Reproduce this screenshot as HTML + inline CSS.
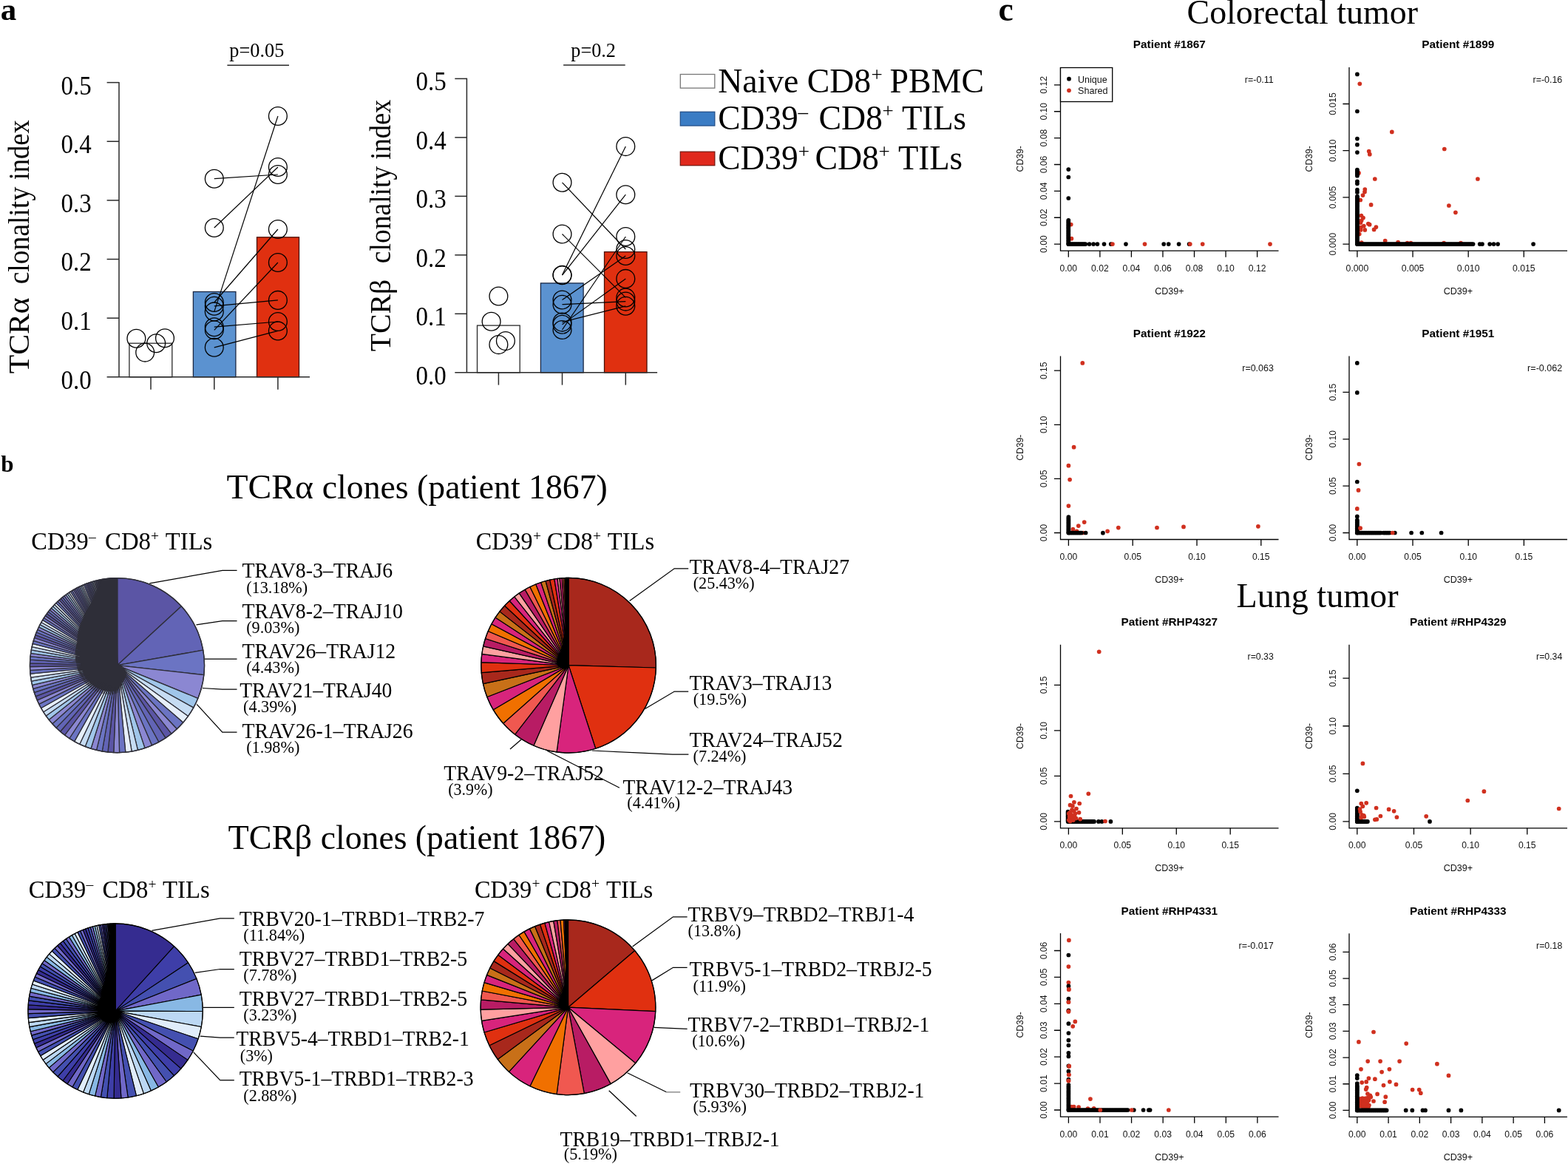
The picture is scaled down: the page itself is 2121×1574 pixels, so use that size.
<!DOCTYPE html>
<html lang="en">
<head>
<meta charset="utf-8">
<title>TCR clonality in CD39+ and CD39- CD8+ TILs</title>
<style>
html,body{margin:0;padding:0;background:#fff;}
body{width:2121px;height:1574px;overflow:hidden;}
svg{display:block;}
.se{font-family:"Liberation Serif","DejaVu Serif",serif;fill:#000;}
.sb{font-family:"Liberation Serif","DejaVu Serif",serif;font-weight:bold;fill:#000;}
.sa{font-family:"Liberation Sans","DejaVu Sans",sans-serif;fill:#111;}
.sab{font-family:"Liberation Sans","DejaVu Sans",sans-serif;font-weight:bold;fill:#000;}
</style>
</head>
<body>
<svg width="2121" height="1574" viewBox="0 0 2121 1574">
<rect x="0" y="0" width="2121" height="1574" fill="#ffffff"/>
<g id="panel-a">
<text class="sb" x="0.8" y="26.8" font-size="43">a</text>
<rect x="174.9" y="464.2" width="57.9" height="45.6" fill="#fff" stroke="#2a2a2a" stroke-width="1.3"/>
<rect x="261.4" y="394.5" width="57.5" height="115.3" fill="#5b92d0" stroke="#1a2744" stroke-width="1.3"/>
<rect x="347.5" y="320.8" width="57" height="189" fill="#e03010" stroke="#4a1006" stroke-width="1.3"/>
<line x1="161" y1="110.9" x2="161" y2="509.8" stroke="#2a2a2a" stroke-width="1.5"/>
<line x1="144.6" y1="509.8" x2="419" y2="509.8" stroke="#2a2a2a" stroke-width="1.5"/>
<text class="se" x="82.5" y="525.7" font-size="36" textLength="41.2" lengthAdjust="spacingAndGlyphs">0.0</text>
<line x1="144.6" y1="430.16" x2="161" y2="430.16" stroke="#2a2a2a" stroke-width="1.5"/>
<text class="se" x="82.5" y="446.06" font-size="36" textLength="41.2" lengthAdjust="spacingAndGlyphs">0.1</text>
<line x1="144.6" y1="350.52" x2="161" y2="350.52" stroke="#2a2a2a" stroke-width="1.5"/>
<text class="se" x="82.5" y="366.42" font-size="36" textLength="41.2" lengthAdjust="spacingAndGlyphs">0.2</text>
<line x1="144.6" y1="270.88" x2="161" y2="270.88" stroke="#2a2a2a" stroke-width="1.5"/>
<text class="se" x="82.5" y="286.78" font-size="36" textLength="41.2" lengthAdjust="spacingAndGlyphs">0.3</text>
<line x1="144.6" y1="191.24" x2="161" y2="191.24" stroke="#2a2a2a" stroke-width="1.5"/>
<text class="se" x="82.5" y="207.14" font-size="36" textLength="41.2" lengthAdjust="spacingAndGlyphs">0.4</text>
<line x1="144.6" y1="111.6" x2="161" y2="111.6" stroke="#2a2a2a" stroke-width="1.5"/>
<text class="se" x="82.5" y="127.5" font-size="36" textLength="41.2" lengthAdjust="spacingAndGlyphs">0.5</text>
<line x1="204" y1="509.8" x2="204" y2="526.8" stroke="#2a2a2a" stroke-width="1.5"/>
<line x1="289.8" y1="509.8" x2="289.8" y2="526.8" stroke="#2a2a2a" stroke-width="1.5"/>
<line x1="375.9" y1="509.8" x2="375.9" y2="526.8" stroke="#2a2a2a" stroke-width="1.5"/>
<text class="se" x="38.9" y="505.3" font-size="41" transform="rotate(-90 38.9 505.3)" textLength="103" lengthAdjust="spacingAndGlyphs">TCRα</text>
<text class="se" x="38.9" y="384.3" font-size="41" transform="rotate(-90 38.9 384.3)" textLength="131.5" lengthAdjust="spacingAndGlyphs">clonality</text>
<text class="se" x="38.9" y="243.3" font-size="41" transform="rotate(-90 38.9 243.3)" textLength="81" lengthAdjust="spacingAndGlyphs">index</text>
<circle cx="184.4" cy="457.7" r="12.4" fill="none" stroke="#000" stroke-width="1.3"/>
<circle cx="196.2" cy="476.6" r="12.4" fill="none" stroke="#000" stroke-width="1.3"/>
<circle cx="211.2" cy="464.2" r="12.4" fill="none" stroke="#000" stroke-width="1.3"/>
<circle cx="223" cy="457.3" r="12.4" fill="none" stroke="#000" stroke-width="1.3"/>
<circle cx="289.8" cy="241.7" r="12.4" fill="none" stroke="#000" stroke-width="1.3"/>
<circle cx="375.9" cy="236" r="12.4" fill="none" stroke="#000" stroke-width="1.3"/>
<circle cx="289.8" cy="308" r="12.4" fill="none" stroke="#000" stroke-width="1.3"/>
<circle cx="375.9" cy="226" r="12.4" fill="none" stroke="#000" stroke-width="1.3"/>
<circle cx="289.8" cy="421.4" r="12.4" fill="none" stroke="#000" stroke-width="1.3"/>
<circle cx="375.9" cy="157" r="12.4" fill="none" stroke="#000" stroke-width="1.3"/>
<circle cx="289.8" cy="409" r="12.4" fill="none" stroke="#000" stroke-width="1.3"/>
<circle cx="375.9" cy="310" r="12.4" fill="none" stroke="#000" stroke-width="1.3"/>
<circle cx="289.8" cy="413.8" r="12.4" fill="none" stroke="#000" stroke-width="1.3"/>
<circle cx="375.9" cy="405.9" r="12.4" fill="none" stroke="#000" stroke-width="1.3"/>
<circle cx="289.8" cy="446.3" r="12.4" fill="none" stroke="#000" stroke-width="1.3"/>
<circle cx="375.9" cy="355" r="12.4" fill="none" stroke="#000" stroke-width="1.3"/>
<circle cx="289.8" cy="442.2" r="12.4" fill="none" stroke="#000" stroke-width="1.3"/>
<circle cx="375.9" cy="435" r="12.4" fill="none" stroke="#000" stroke-width="1.3"/>
<circle cx="289.8" cy="469.8" r="12.4" fill="none" stroke="#000" stroke-width="1.3"/>
<circle cx="375.9" cy="447.4" r="12.4" fill="none" stroke="#000" stroke-width="1.3"/>
<line x1="289.8" y1="241.7" x2="375.9" y2="236" stroke="#000" stroke-width="1.2"/>
<line x1="289.8" y1="308" x2="375.9" y2="226" stroke="#000" stroke-width="1.2"/>
<line x1="289.8" y1="421.4" x2="375.9" y2="157" stroke="#000" stroke-width="1.2"/>
<line x1="289.8" y1="409" x2="375.9" y2="310" stroke="#000" stroke-width="1.2"/>
<line x1="289.8" y1="413.8" x2="375.9" y2="405.9" stroke="#000" stroke-width="1.2"/>
<line x1="289.8" y1="446.3" x2="375.9" y2="355" stroke="#000" stroke-width="1.2"/>
<line x1="289.8" y1="442.2" x2="375.9" y2="435" stroke="#000" stroke-width="1.2"/>
<line x1="289.8" y1="469.8" x2="375.9" y2="447.4" stroke="#000" stroke-width="1.2"/>
<text class="se" x="310.3" y="77.2" font-size="27.2" textLength="74" lengthAdjust="spacingAndGlyphs">p=0.05</text>
<line x1="307.4" y1="88.2" x2="391" y2="88.2" stroke="#2a2a2a" stroke-width="1.5"/>
<rect x="645.5" y="440.1" width="57.7" height="63.7" fill="#fff" stroke="#2a2a2a" stroke-width="1.3"/>
<rect x="731.4" y="382.9" width="57.7" height="120.9" fill="#5b92d0" stroke="#1a2744" stroke-width="1.3"/>
<rect x="817.5" y="340.6" width="57.5" height="163.2" fill="#e03010" stroke="#4a1006" stroke-width="1.3"/>
<line x1="631.4" y1="105.7" x2="631.4" y2="503.8" stroke="#2a2a2a" stroke-width="1.5"/>
<line x1="615.3" y1="503.8" x2="889.1" y2="503.8" stroke="#2a2a2a" stroke-width="1.5"/>
<text class="se" x="562.6" y="519.7" font-size="36" textLength="41.2" lengthAdjust="spacingAndGlyphs">0.0</text>
<line x1="615.3" y1="424.32" x2="631.4" y2="424.32" stroke="#2a2a2a" stroke-width="1.5"/>
<text class="se" x="562.6" y="440.22" font-size="36" textLength="41.2" lengthAdjust="spacingAndGlyphs">0.1</text>
<line x1="615.3" y1="344.84" x2="631.4" y2="344.84" stroke="#2a2a2a" stroke-width="1.5"/>
<text class="se" x="562.6" y="360.74" font-size="36" textLength="41.2" lengthAdjust="spacingAndGlyphs">0.2</text>
<line x1="615.3" y1="265.36" x2="631.4" y2="265.36" stroke="#2a2a2a" stroke-width="1.5"/>
<text class="se" x="562.6" y="281.26" font-size="36" textLength="41.2" lengthAdjust="spacingAndGlyphs">0.3</text>
<line x1="615.3" y1="185.88" x2="631.4" y2="185.88" stroke="#2a2a2a" stroke-width="1.5"/>
<text class="se" x="562.6" y="201.78" font-size="36" textLength="41.2" lengthAdjust="spacingAndGlyphs">0.4</text>
<line x1="615.3" y1="106.4" x2="631.4" y2="106.4" stroke="#2a2a2a" stroke-width="1.5"/>
<text class="se" x="562.6" y="122.3" font-size="36" textLength="41.2" lengthAdjust="spacingAndGlyphs">0.5</text>
<line x1="674.4" y1="503.8" x2="674.4" y2="520.6" stroke="#2a2a2a" stroke-width="1.5"/>
<line x1="760.5" y1="503.8" x2="760.5" y2="520.6" stroke="#2a2a2a" stroke-width="1.5"/>
<line x1="846.3" y1="503.8" x2="846.3" y2="520.6" stroke="#2a2a2a" stroke-width="1.5"/>
<text class="se" x="528.1" y="475.3" font-size="41" transform="rotate(-90 528.1 475.3)" textLength="97.5" lengthAdjust="spacingAndGlyphs">TCRβ</text>
<text class="se" x="528.1" y="356.2" font-size="41" transform="rotate(-90 528.1 356.2)" textLength="131.5" lengthAdjust="spacingAndGlyphs">clonality</text>
<text class="se" x="528.1" y="215.7" font-size="41" transform="rotate(-90 528.1 215.7)" textLength="81" lengthAdjust="spacingAndGlyphs">index</text>
<circle cx="674.4" cy="400.5" r="12.4" fill="none" stroke="#000" stroke-width="1.3"/>
<circle cx="664.6" cy="434.8" r="12.4" fill="none" stroke="#000" stroke-width="1.3"/>
<circle cx="683.9" cy="461.1" r="12.4" fill="none" stroke="#000" stroke-width="1.3"/>
<circle cx="674.4" cy="466.1" r="12.4" fill="none" stroke="#000" stroke-width="1.3"/>
<circle cx="760.5" cy="316.5" r="12.4" fill="none" stroke="#000" stroke-width="1.3"/>
<circle cx="846.3" cy="402.4" r="12.4" fill="none" stroke="#000" stroke-width="1.3"/>
<circle cx="760.5" cy="371.7" r="12.4" fill="none" stroke="#000" stroke-width="1.3"/>
<circle cx="846.3" cy="198.1" r="12.4" fill="none" stroke="#000" stroke-width="1.3"/>
<circle cx="760.5" cy="372.2" r="12.4" fill="none" stroke="#000" stroke-width="1.3"/>
<circle cx="846.3" cy="263.2" r="12.4" fill="none" stroke="#000" stroke-width="1.3"/>
<circle cx="760.5" cy="246.8" r="12.4" fill="none" stroke="#000" stroke-width="1.3"/>
<circle cx="846.3" cy="337" r="12.4" fill="none" stroke="#000" stroke-width="1.3"/>
<circle cx="760.5" cy="405.5" r="12.4" fill="none" stroke="#000" stroke-width="1.3"/>
<circle cx="846.3" cy="346" r="12.4" fill="none" stroke="#000" stroke-width="1.3"/>
<circle cx="760.5" cy="411.7" r="12.4" fill="none" stroke="#000" stroke-width="1.3"/>
<circle cx="846.3" cy="407.6" r="12.4" fill="none" stroke="#000" stroke-width="1.3"/>
<circle cx="760.5" cy="438.7" r="12.4" fill="none" stroke="#000" stroke-width="1.3"/>
<circle cx="846.3" cy="376.9" r="12.4" fill="none" stroke="#000" stroke-width="1.3"/>
<circle cx="760.5" cy="435.6" r="12.4" fill="none" stroke="#000" stroke-width="1.3"/>
<circle cx="846.3" cy="413.8" r="12.4" fill="none" stroke="#000" stroke-width="1.3"/>
<circle cx="760.5" cy="446" r="12.4" fill="none" stroke="#000" stroke-width="1.3"/>
<circle cx="846.3" cy="320" r="12.4" fill="none" stroke="#000" stroke-width="1.3"/>
<line x1="760.5" y1="316.5" x2="846.3" y2="402.4" stroke="#000" stroke-width="1.2"/>
<line x1="760.5" y1="371.7" x2="846.3" y2="198.1" stroke="#000" stroke-width="1.2"/>
<line x1="760.5" y1="372.2" x2="846.3" y2="263.2" stroke="#000" stroke-width="1.2"/>
<line x1="760.5" y1="246.8" x2="846.3" y2="337" stroke="#000" stroke-width="1.2"/>
<line x1="760.5" y1="405.5" x2="846.3" y2="346" stroke="#000" stroke-width="1.2"/>
<line x1="760.5" y1="411.7" x2="846.3" y2="407.6" stroke="#000" stroke-width="1.2"/>
<line x1="760.5" y1="438.7" x2="846.3" y2="376.9" stroke="#000" stroke-width="1.2"/>
<line x1="760.5" y1="435.6" x2="846.3" y2="413.8" stroke="#000" stroke-width="1.2"/>
<line x1="760.5" y1="446" x2="846.3" y2="320" stroke="#000" stroke-width="1.2"/>
<text class="se" x="772.3" y="76.9" font-size="27.2" textLength="60.6" lengthAdjust="spacingAndGlyphs">p=0.2</text>
<line x1="762.1" y1="87.9" x2="845.7" y2="87.9" stroke="#2a2a2a" stroke-width="1.5"/>
<rect x="920.3" y="100.5" width="46.5" height="18.6" fill="#fff" stroke="#777" stroke-width="1.3"/>
<rect x="920.3" y="151.3" width="46.5" height="18.7" fill="#3a7cc4" stroke="#24508a" stroke-width="1.3"/>
<rect x="920.3" y="205.2" width="46.5" height="18.5" fill="#e0281c" stroke="#7a1810" stroke-width="1.3"/>
<text class="se" x="971.2" y="125.3" font-size="47" textLength="207" lengthAdjust="spacingAndGlyphs">Naive CD8</text>
<text class="se" x="1178.5" y="109.8" font-size="27">+</text>
<text class="se" x="1203.5" y="125.3" font-size="47" textLength="127.5" lengthAdjust="spacingAndGlyphs">PBMC</text>
<text class="se" x="971.2" y="174.7" font-size="47" textLength="108.5" lengthAdjust="spacingAndGlyphs">CD39</text>
<text class="se" x="1079.5" y="159.7" font-size="27" fill="#555">–</text>
<text class="se" x="1107.5" y="174.7" font-size="47" textLength="86.5" lengthAdjust="spacingAndGlyphs">CD8</text>
<text class="se" x="1193.5" y="159.2" font-size="27">+</text>
<text class="se" x="1220" y="174.7" font-size="47" textLength="87" lengthAdjust="spacingAndGlyphs">TILs</text>
<text class="se" x="971.2" y="229.1" font-size="47" textLength="108.5" lengthAdjust="spacingAndGlyphs">CD39</text>
<text class="se" x="1079.7" y="213.6" font-size="27">+</text>
<text class="se" x="1102.5" y="229.1" font-size="47" textLength="86.5" lengthAdjust="spacingAndGlyphs">CD8</text>
<text class="se" x="1188.5" y="213.6" font-size="27">+</text>
<text class="se" x="1215" y="229.1" font-size="47" textLength="87" lengthAdjust="spacingAndGlyphs">TILs</text>
</g>
<g id="panel-b">
<text class="sb" x="1.2" y="638" font-size="31">b</text>
<text class="se" x="306.5" y="673.5" font-size="47.3" textLength="117.5" lengthAdjust="spacingAndGlyphs">TCRα</text>
<text class="se" x="435.8" y="673.5" font-size="47.3" textLength="386" lengthAdjust="spacingAndGlyphs">clones (patient 1867)</text>
<text class="se" x="308.6" y="1148" font-size="47.3" textLength="113.5" lengthAdjust="spacingAndGlyphs">TCRβ</text>
<text class="se" x="433.8" y="1148" font-size="47.3" textLength="385.5" lengthAdjust="spacingAndGlyphs">clones (patient 1867)</text>
<text class="se" x="42.3" y="743.1" font-size="33.5" textLength="77.4" lengthAdjust="spacingAndGlyphs">CD39</text>
<text class="se" x="120" y="731.6" font-size="19.5" fill="#444">–</text>
<text class="se" x="142" y="743.1" font-size="33.5" textLength="62" lengthAdjust="spacingAndGlyphs">CD8</text>
<text class="se" x="203.9" y="730.9" font-size="19.5">+</text>
<text class="se" x="223.8" y="743.1" font-size="33.5" textLength="63.5" lengthAdjust="spacingAndGlyphs">TILs</text>
<text class="se" x="643.8" y="743.4" font-size="33.5" textLength="76.8" lengthAdjust="spacingAndGlyphs">CD39</text>
<text class="se" x="720.9" y="731.2" font-size="19.5">+</text>
<text class="se" x="739.8" y="743.4" font-size="33.5" textLength="62" lengthAdjust="spacingAndGlyphs">CD8</text>
<text class="se" x="801.9" y="731.2" font-size="19.5">+</text>
<text class="se" x="821.8" y="743.4" font-size="33.5" textLength="63.4" lengthAdjust="spacingAndGlyphs">TILs</text>
<text class="se" x="38.8" y="1213.8" font-size="33.5" textLength="77.4" lengthAdjust="spacingAndGlyphs">CD39</text>
<text class="se" x="116.5" y="1202.3" font-size="19.5" fill="#444">–</text>
<text class="se" x="138.4" y="1213.8" font-size="33.5" textLength="62" lengthAdjust="spacingAndGlyphs">CD8</text>
<text class="se" x="200.4" y="1201.6" font-size="19.5">+</text>
<text class="se" x="220.1" y="1213.8" font-size="33.5" textLength="63.7" lengthAdjust="spacingAndGlyphs">TILs</text>
<text class="se" x="642" y="1213.5" font-size="33.5" textLength="77.2" lengthAdjust="spacingAndGlyphs">CD39</text>
<text class="se" x="719.5" y="1201.3" font-size="19.5">+</text>
<text class="se" x="737.8" y="1213.5" font-size="33.5" textLength="62" lengthAdjust="spacingAndGlyphs">CD8</text>
<text class="se" x="799.9" y="1201.3" font-size="19.5">+</text>
<text class="se" x="820" y="1213.5" font-size="33.5" textLength="63.3" lengthAdjust="spacingAndGlyphs">TILs</text>
<g stroke="#2e2e38" stroke-width="1.3" stroke-linejoin="round">
<path d="M158.5 899.7L158.5 781.65A118.05 118.05 0 0 1 245.4 819.79Z" fill="#5b55a5"/>
<path d="M158.5 899.7L245.4 819.79A118.05 118.05 0 0 1 274.76 879.2Z" fill="#6264b6"/>
<path d="M158.5 899.7L274.76 879.2A118.05 118.05 0 0 1 275.84 912.65Z" fill="#6b74c3"/>
<path d="M158.5 899.7L275.84 912.65A118.05 118.05 0 0 1 267.8 944.3Z" fill="#8b87d2"/>
<path d="M158.5 899.7L267.8 944.3A118.05 118.05 0 0 1 261.75 956.93Z" fill="#a0c6ea"/>
<path d="M158.5 899.7L261.75 956.93A118.05 118.05 0 0 1 254.49 968.42Z" fill="#c6dcf3"/>
<path d="M158.5 899.7L254.49 968.42A118.05 118.05 0 0 1 247.73 976.99Z" fill="#e6effa"/>
<path d="M158.5 899.7L247.73 976.99A118.05 118.05 0 0 1 239.31 985.75Z" fill="#6b74c3"/>
<path d="M158.5 899.7L239.31 985.75A118.05 118.05 0 0 1 231.83 992.22Z" fill="#8b87d2"/>
<path d="M158.5 899.7L231.83 992.22A118.05 118.05 0 0 1 224 997.91Z" fill="#5b55a5"/>
<path d="M158.5 899.7L224 997.91A118.05 118.05 0 0 1 214.83 1003.44Z" fill="#6264b6"/>
<path d="M158.5 899.7L214.83 1003.44A118.05 118.05 0 0 1 205.57 1007.96Z" fill="#6b74c3"/>
<path d="M158.5 899.7L205.57 1007.96A118.05 118.05 0 0 1 195.96 1011.65Z" fill="#8b87d2"/>
<path d="M158.5 899.7L195.96 1011.65A118.05 118.05 0 0 1 186.46 1014.39Z" fill="#a0c6ea"/>
<path d="M158.5 899.7L186.46 1014.39A118.05 118.05 0 0 1 178.19 1016.1Z" fill="#c6dcf3"/>
<path d="M158.5 899.7L178.19 1016.1A118.05 118.05 0 0 1 169.81 1017.21Z" fill="#e6effa"/>
<path d="M158.5 899.7L169.81 1017.21A118.05 118.05 0 0 1 161.59 1017.71Z" fill="#6b74c3"/>
<path d="M158.5 899.7L161.59 1017.71A118.05 118.05 0 0 1 153.76 1017.65Z" fill="#8b87d2"/>
<path d="M158.5 899.7L153.76 1017.65A118.05 118.05 0 0 1 145.95 1017.08Z" fill="#5b55a5"/>
<path d="M158.5 899.7L145.95 1017.08A118.05 118.05 0 0 1 138.19 1015.99Z" fill="#6264b6"/>
<path d="M158.5 899.7L138.19 1015.99A118.05 118.05 0 0 1 130.53 1014.39Z" fill="#6b74c3"/>
<path d="M158.5 899.7L130.53 1014.39A118.05 118.05 0 0 1 123 1012.29Z" fill="#8b87d2"/>
<path d="M158.5 899.7L123 1012.29A118.05 118.05 0 0 1 115.22 1009.53Z" fill="#a0c6ea"/>
<path d="M158.5 899.7L115.22 1009.53A118.05 118.05 0 0 1 107.76 1006.29Z" fill="#c6dcf3"/>
<path d="M158.5 899.7L107.76 1006.29A118.05 118.05 0 0 1 100.64 1002.6Z" fill="#e6effa"/>
<path d="M158.5 899.7L100.64 1002.6A118.05 118.05 0 0 1 93.89 998.5Z" fill="#6b74c3"/>
<path d="M158.5 899.7L93.89 998.5A118.05 118.05 0 0 1 87.52 994.03Z" fill="#8b87d2"/>
<path d="M158.5 899.7L87.52 994.03A118.05 118.05 0 0 1 81.55 989.22Z" fill="#5b55a5"/>
<path d="M158.5 899.7L81.55 989.22A118.05 118.05 0 0 1 75.99 984.12Z" fill="#6264b6"/>
<path d="M158.5 899.7L75.99 984.12A118.05 118.05 0 0 1 70.84 978.77Z" fill="#6b74c3"/>
<path d="M158.5 899.7L70.84 978.77A118.05 118.05 0 0 1 66.11 973.19Z" fill="#8b87d2"/>
<path d="M158.5 899.7L66.11 973.19A118.05 118.05 0 0 1 62.22 968.01Z" fill="#a0c6ea"/>
<path d="M158.5 899.7L62.22 968.01A118.05 118.05 0 0 1 58.71 962.77Z" fill="#c6dcf3"/>
<path d="M158.5 899.7L58.71 962.77A118.05 118.05 0 0 1 55.56 957.48Z" fill="#e6effa"/>
<path d="M158.5 899.7L55.56 957.48A118.05 118.05 0 0 1 52.76 952.18Z" fill="#6b74c3"/>
<path d="M158.5 899.7L52.76 952.18A118.05 118.05 0 0 1 50.29 946.89Z" fill="#8b87d2"/>
<path d="M158.5 899.7L50.29 946.89A118.05 118.05 0 0 1 48.15 941.63Z" fill="#5b55a5"/>
<path d="M158.5 899.7L48.15 941.63A118.05 118.05 0 0 1 46.31 936.43Z" fill="#6264b6"/>
<path d="M158.5 899.7L46.31 936.43A118.05 118.05 0 0 1 44.76 931.3Z" fill="#6b74c3"/>
<path d="M158.5 899.7L44.76 931.3A118.05 118.05 0 0 1 43.48 926.26Z" fill="#8b87d2"/>
<path d="M158.5 899.7L43.48 926.26A118.05 118.05 0 0 1 42.42 921.18Z" fill="#a0c6ea"/>
<path d="M158.5 899.7L42.42 921.18A118.05 118.05 0 0 1 41.6 916.16Z" fill="#c6dcf3"/>
<path d="M158.5 899.7L41.6 916.16A118.05 118.05 0 0 1 41.01 911.2Z" fill="#e6effa"/>
<path d="M158.5 899.7L41.01 911.2A118.05 118.05 0 0 1 40.64 906.31Z" fill="#6b74c3"/>
<path d="M158.5 899.7L40.64 906.31A118.05 118.05 0 0 1 40.46 901.51Z" fill="#8b87d2"/>
<path d="M158.5 899.7L40.46 901.51A118.05 118.05 0 0 1 40.49 896.8Z" fill="#5b55a5"/>
<path d="M158.5 899.7L40.49 896.8A118.05 118.05 0 0 1 40.69 892.18Z" fill="#6264b6"/>
<path d="M158.5 899.7L40.69 892.18A118.05 118.05 0 0 1 41.06 887.67Z" fill="#6b74c3"/>
<path d="M158.5 899.7L41.06 887.67A118.05 118.05 0 0 1 41.6 883.27Z" fill="#8b87d2"/>
<path d="M158.5 899.7L41.6 883.27A118.05 118.05 0 0 1 42.3 878.9Z" fill="#a0c6ea"/>
<path d="M158.5 899.7L42.3 878.9A118.05 118.05 0 0 1 43.14 874.63Z" fill="#c6dcf3"/>
<path d="M158.5 899.7L43.14 874.63A118.05 118.05 0 0 1 44.12 870.48Z" fill="#e6effa"/>
<path d="M158.5 899.7L44.12 870.48A118.05 118.05 0 0 1 45.24 866.43Z" fill="#6b74c3"/>
<path d="M158.5 899.7L45.24 866.43A118.05 118.05 0 0 1 46.47 862.5Z" fill="#8b87d2"/>
<path d="M158.5 899.7L46.47 862.5A118.05 118.05 0 0 1 47.81 858.68Z" fill="#5b55a5"/>
<path d="M158.5 899.7L47.81 858.68A118.05 118.05 0 0 1 49.25 854.98Z" fill="#6264b6"/>
<path d="M158.5 899.7L49.25 854.98A118.05 118.05 0 0 1 50.78 851.41Z" fill="#6b74c3"/>
<path d="M158.5 899.7L50.78 851.41A118.05 118.05 0 0 1 52.4 847.95Z" fill="#8b87d2"/>
<path d="M158.5 899.7L52.4 847.95A118.05 118.05 0 0 1 54.06 844.66Z" fill="#a0c6ea"/>
<path d="M158.5 899.7L54.06 844.66A118.05 118.05 0 0 1 55.8 841.49Z" fill="#c6dcf3"/>
<path d="M158.5 899.7L55.8 841.49A118.05 118.05 0 0 1 57.6 838.42Z" fill="#e6effa"/>
<path d="M158.5 899.7L57.6 838.42A118.05 118.05 0 0 1 59.46 835.46Z" fill="#6b74c3"/>
<path d="M158.5 899.7L59.46 835.46A118.05 118.05 0 0 1 61.37 832.6Z" fill="#8b87d2"/>
<path d="M158.5 899.7L61.37 832.6A118.05 118.05 0 0 1 63.33 829.86Z" fill="#5b55a5"/>
<path d="M158.5 899.7L63.33 829.86A118.05 118.05 0 0 1 65.32 827.22Z" fill="#6264b6"/>
<path d="M158.5 899.7L65.32 827.22A118.05 118.05 0 0 1 67.35 824.68Z" fill="#6b74c3"/>
<path d="M158.5 899.7L67.35 824.68A118.05 118.05 0 0 1 69.41 822.25Z" fill="#8b87d2"/>
<path d="M158.5 899.7L69.41 822.25A118.05 118.05 0 0 1 71.54 819.86Z" fill="#a0c6ea"/>
<path d="M158.5 899.7L71.54 819.86A118.05 118.05 0 0 1 73.7 817.57Z" fill="#c6dcf3"/>
<path d="M158.5 899.7L73.7 817.57A118.05 118.05 0 0 1 75.88 815.38Z" fill="#e6effa"/>
<path d="M158.5 899.7L75.88 815.38A118.05 118.05 0 0 1 78.08 813.28Z" fill="#6b74c3"/>
<path d="M158.5 899.7L78.08 813.28A118.05 118.05 0 0 1 80.28 811.28Z" fill="#8b87d2"/>
<path d="M158.5 899.7L80.28 811.28A118.05 118.05 0 0 1 82.49 809.38Z" fill="#5b55a5"/>
<path d="M158.5 899.7L82.49 809.38A118.05 118.05 0 0 1 84.7 807.56Z" fill="#6264b6"/>
<path d="M158.5 899.7L84.7 807.56A118.05 118.05 0 0 1 86.91 805.83Z" fill="#6b74c3"/>
<path d="M158.5 899.7L86.91 805.83A118.05 118.05 0 0 1 89.11 804.2Z" fill="#8b87d2"/>
<path d="M158.5 899.7L89.11 804.2A118.05 118.05 0 0 1 91.26 802.67Z" fill="#a0c6ea"/>
<path d="M158.5 899.7L91.26 802.67A118.05 118.05 0 0 1 93.39 801.23Z" fill="#c6dcf3"/>
<path d="M158.5 899.7L93.39 801.23A118.05 118.05 0 0 1 95.5 799.87Z" fill="#e6effa"/>
<path d="M158.5 899.7L95.5 799.87A118.05 118.05 0 0 1 97.6 798.57Z" fill="#6b74c3"/>
<path d="M158.5 899.7L97.6 798.57A118.05 118.05 0 0 1 99.67 797.35Z" fill="#8b87d2"/>
<path d="M158.5 899.7L99.67 797.35A118.05 118.05 0 0 1 101.71 796.21Z" fill="#5b55a5"/>
<path d="M158.5 899.7L101.71 796.21A118.05 118.05 0 0 1 103.73 795.12Z" fill="#6264b6"/>
<path d="M158.5 899.7L103.73 795.12A118.05 118.05 0 0 1 105.72 794.11Z" fill="#6b74c3"/>
<path d="M158.5 899.7L105.72 794.11A118.05 118.05 0 0 1 107.68 793.15Z" fill="#8b87d2"/>
<path d="M158.5 899.7L107.68 793.15A118.05 118.05 0 0 1 109.63 792.24Z" fill="#a0c6ea"/>
<path d="M158.5 899.7L109.63 792.24A118.05 118.05 0 0 1 111.54 791.39Z" fill="#c6dcf3"/>
<path d="M158.5 899.7L111.54 791.39A118.05 118.05 0 0 1 113.43 790.59Z" fill="#e6effa"/>
<path d="M158.5 899.7L113.43 790.59A118.05 118.05 0 0 1 115.28 789.85Z" fill="#6b74c3"/>
<path d="M158.5 899.7L115.28 789.85A118.05 118.05 0 0 1 117.1 789.15Z" fill="#8b87d2"/>
<path d="M158.5 899.7L117.1 789.15A118.05 118.05 0 0 1 118.88 788.5Z" fill="#5b55a5"/>
<path d="M158.5 899.7L118.88 788.5A118.05 118.05 0 0 1 120.62 787.89Z" fill="#6264b6"/>
<path d="M158.5 899.7L120.62 787.89A118.05 118.05 0 0 1 122.32 787.33Z" fill="#6b74c3"/>
<path d="M158.5 899.7L122.32 787.33A118.05 118.05 0 0 1 123.99 786.81Z" fill="#8b87d2"/>
<path d="M158.5 899.7L123.99 786.81A118.05 118.05 0 0 1 125.61 786.33Z" fill="#a0c6ea"/>
<path d="M158.5 899.7L125.61 786.33A118.05 118.05 0 0 1 127.19 785.88Z" fill="#c6dcf3"/>
<path d="M158.5 899.7L127.19 785.88A118.05 118.05 0 0 1 128.72 785.47Z" fill="#e6effa"/>
<path d="M158.5 899.7L128.72 785.47A118.05 118.05 0 0 1 130.21 785.09Z" fill="#6b74c3"/>
<path d="M158.5 899.7L130.21 785.09A118.05 118.05 0 0 1 131.66 784.74Z" fill="#8b87d2"/>
<path d="M158.5 899.7L131.66 784.74A118.05 118.05 0 0 1 133.06 784.42Z" fill="#5b55a5"/>
<path d="M158.5 899.7L133.06 784.42A118.05 118.05 0 0 1 134.42 784.13Z" fill="#6264b6"/>
<path d="M158.5 899.7L134.42 784.13A118.05 118.05 0 0 1 135.73 783.87Z" fill="#6b74c3"/>
<path d="M158.5 899.7L135.73 783.87A118.05 118.05 0 0 1 136.99 783.63Z" fill="#8b87d2"/>
<path d="M158.5 899.7L136.99 783.63A118.05 118.05 0 0 1 138.16 783.42Z" fill="#a0c6ea"/>
<path d="M158.5 899.7L138.16 783.42A118.05 118.05 0 0 1 139.3 783.22Z" fill="#c6dcf3"/>
<path d="M158.5 899.7L139.3 783.22A118.05 118.05 0 0 1 140.39 783.05Z" fill="#e6effa"/>
<path d="M158.5 899.7L140.39 783.05A118.05 118.05 0 0 1 141.45 782.89Z" fill="#6b74c3"/>
<path d="M158.5 899.7L141.45 782.89A118.05 118.05 0 0 1 142.47 782.74Z" fill="#8b87d2"/>
<path d="M158.5 899.7L142.47 782.74A118.05 118.05 0 0 1 143.45 782.61Z" fill="#5b55a5"/>
<path d="M158.5 899.7L143.45 782.61A118.05 118.05 0 0 1 144.39 782.5Z" fill="#6264b6"/>
<path d="M158.5 899.7L144.39 782.5A118.05 118.05 0 0 1 145.3 782.39Z" fill="#6b74c3"/>
<path d="M158.5 899.7L145.3 782.39A118.05 118.05 0 0 1 146.16 782.3Z" fill="#8b87d2"/>
<path d="M158.5 899.7L146.16 782.3A118.05 118.05 0 0 1 147.03 782.21Z" fill="#a0c6ea"/>
<path d="M158.5 899.7L147.03 782.21A118.05 118.05 0 0 1 147.86 782.13Z" fill="#c6dcf3"/>
<path d="M158.5 899.7L147.86 782.13A118.05 118.05 0 0 1 148.66 782.06Z" fill="#e6effa"/>
<path d="M158.5 899.7L148.66 782.06A118.05 118.05 0 0 1 149.42 782Z" fill="#6b74c3"/>
<path d="M158.5 899.7L149.42 782A118.05 118.05 0 0 1 150.15 781.95Z" fill="#8b87d2"/>
<path d="M158.5 899.7L150.15 781.95A118.05 118.05 0 0 1 150.85 781.9Z" fill="#5b55a5"/>
<path d="M158.5 899.7L150.85 781.9A118.05 118.05 0 0 1 151.51 781.86Z" fill="#6264b6"/>
<path d="M158.5 899.7L151.51 781.86A118.05 118.05 0 0 1 152.14 781.82Z" fill="#6b74c3"/>
<path d="M158.5 899.7L152.14 781.82A118.05 118.05 0 0 1 152.73 781.79Z" fill="#8b87d2"/>
<path d="M158.5 899.7L152.73 781.79A118.05 118.05 0 0 1 153.25 781.77Z" fill="#a0c6ea"/>
<path d="M158.5 899.7L153.25 781.77A118.05 118.05 0 0 1 153.74 781.75Z" fill="#c6dcf3"/>
<path d="M158.5 899.7L153.74 781.75A118.05 118.05 0 0 1 154.2 781.73Z" fill="#e6effa"/>
<path d="M158.5 899.7L154.2 781.73A118.05 118.05 0 0 1 154.64 781.71Z" fill="#6b74c3"/>
<path d="M158.5 899.7L154.64 781.71A118.05 118.05 0 0 1 155.05 781.7Z" fill="#8b87d2"/>
<path d="M158.5 899.7L155.05 781.7A118.05 118.05 0 0 1 155.44 781.69Z" fill="#5b55a5"/>
<path d="M158.5 899.7L155.44 781.69A118.05 118.05 0 0 1 155.8 781.68Z" fill="#6264b6"/>
<path d="M158.5 899.7L155.8 781.68A118.05 118.05 0 0 1 156.13 781.67Z" fill="#6b74c3"/>
<path d="M158.5 899.7L156.13 781.67A118.05 118.05 0 0 1 156.44 781.67Z" fill="#8b87d2"/>
<path d="M158.5 899.7L156.44 781.67A118.05 118.05 0 0 1 156.7 781.66Z" fill="#a0c6ea"/>
<path d="M158.5 899.7L156.7 781.66A118.05 118.05 0 0 1 156.96 781.66Z" fill="#c6dcf3"/>
<path d="M158.5 899.7L156.96 781.66A118.05 118.05 0 0 1 157.2 781.66Z" fill="#e6effa"/>
<path d="M158.5 899.7L157.2 781.66A118.05 118.05 0 0 1 157.44 781.65Z" fill="#6b74c3"/>
<path d="M158.5 899.7L157.44 781.65A118.05 118.05 0 0 1 157.67 781.65Z" fill="#8b87d2"/>
<path d="M158.5 899.7L157.67 781.65A118.05 118.05 0 0 1 157.89 781.65Z" fill="#5b55a5"/>
<path d="M158.5 899.7L157.89 781.65A118.05 118.05 0 0 1 158.1 781.65Z" fill="#6264b6"/>
<path d="M158.5 899.7L158.1 781.65A118.05 118.05 0 0 1 158.3 781.65Z" fill="#6b74c3"/>
<path d="M158.5 899.7L158.3 781.65A118.05 118.05 0 0 1 158.5 781.65Z" fill="#8b87d2"/>
</g>
<circle cx="158.5" cy="899.7" r="118.05" fill="none" stroke="#2e2e38" stroke-width="1.3"/>
<polygon points="158.5,899.7 158.5,899.68 158.5,899.67 158.5,899.65 158.5,899.63 158.5,899.62 158.51,899.6 158.51,899.58 158.51,899.57 158.51,899.55 158.51,899.53 158.52,899.52 158.52,899.5 158.52,899.48 158.53,899.47 158.53,899.45 158.54,899.44 158.54,899.42 158.55,899.4 158.55,899.39 158.56,899.37 158.56,899.36 158.57,899.34 158.58,899.32 158.58,899.31 158.59,899.29 158.6,899.28 158.61,899.26 158.61,899.25 158.62,899.23 158.63,899.22 158.64,899.2 158.65,899.19 158.66,899.17 158.67,899.16 158.68,899.14 158.69,899.13 158.7,899.12 158.71,899.1 158.72,899.09 158.73,899.07 158.74,899.06 158.75,899.05 158.76,899.03 158.77,899.02 158.79,899.01 158.8,898.99 158.81,898.98 158.83,898.97 158.84,898.96 158.85,898.94 158.87,898.93 158.88,898.92 158.89,898.91 158.91,898.9 158.92,898.89 158.94,898.88 158.95,898.87 158.97,898.85 158.98,898.84 159,898.83 159.02,898.82 159.03,898.81 159.05,898.8 159.07,898.8 159.08,898.79 159.1,898.78 159.12,898.77 159.13,898.76 159.15,898.75 159.17,898.74 159.19,898.74 159.21,898.73 159.22,898.72 159.24,898.72 159.26,898.71 159.28,898.7 159.3,898.7 159.32,898.69 159.34,898.68 159.36,898.68 159.38,898.67 159.4,898.67 159.42,898.66 159.44,898.66 159.46,898.66 159.48,898.65 159.5,898.65 159.52,898.64 159.54,898.64 159.56,898.64 159.58,898.64 159.6,898.63 159.62,898.63 159.65,898.63 159.67,898.63 159.69,898.63 159.71,898.63 159.73,898.63 159.75,898.63 159.78,898.63 159.8,898.63 159.82,898.63 159.84,898.63 159.87,898.63 159.89,898.63 159.91,898.64 159.93,898.64 159.96,898.64 159.98,898.65 160,898.65 160.02,898.65 160.05,898.66 160.07,898.66 160.09,898.67 160.12,898.67 160.14,898.68 160.16,898.68 160.19,898.69 160.21,898.69 160.23,898.7 160.26,898.71 160.28,898.71 160.3,898.72 160.32,898.73 160.35,898.74 160.37,898.75 160.39,898.76 160.42,898.76 160.44,898.77 160.46,898.78 160.49,898.79 160.51,898.81 160.53,898.82 160.56,898.83 160.58,898.84 160.6,898.85 160.62,898.86 160.65,898.88 160.67,898.89 160.69,898.9 160.72,898.92 160.74,898.93 160.76,898.94 160.78,898.96 160.8,898.97 160.83,898.99 160.85,899 160.87,899.02 160.89,899.04 160.91,899.05 160.94,899.07 160.96,899.09 160.98,899.1 161,899.12 161.02,899.14 161.04,899.16 161.06,899.18 161.08,899.2 161.11,899.22 161.13,899.24 161.15,899.26 161.17,899.28 161.19,899.3 161.21,899.32 161.23,899.34 161.25,899.36 161.27,899.38 161.28,899.41 161.3,899.43 161.32,899.45 161.34,899.48 161.36,899.5 161.38,899.52 161.4,899.55 161.41,899.57 161.43,899.6 161.45,899.62 161.47,899.65 161.48,899.67 161.5,899.7 161.6,899.73 161.7,899.76 161.8,899.79 161.9,899.82 162,899.85 162.1,899.89 162.19,899.93 162.29,899.97 162.39,900.01 162.48,900.05 162.58,900.09 162.68,900.14 162.77,900.19 162.87,900.24 162.96,900.29 163.06,900.34 163.15,900.39 163.24,900.45 163.33,900.51 163.42,900.57 163.51,900.63 163.6,900.69 163.69,900.76 163.78,900.82 163.87,900.89 163.96,900.96 164.04,901.03 164.13,901.1 164.21,901.18 164.3,901.25 164.38,901.33 164.46,901.41 164.54,901.49 164.62,901.57 164.7,901.65 164.78,901.74 164.85,901.83 164.93,901.91 165,902 165.08,902.09 165.21,902.21 165.33,902.32 165.46,902.44 165.58,902.56 165.71,902.68 165.83,902.81 165.95,902.94 166.06,903.07 166.18,903.2 166.29,903.33 166.41,903.47 166.52,903.61 166.63,903.75 166.73,903.89 166.84,904.04 166.94,904.19 167.04,904.34 167.14,904.49 167.24,904.64 167.33,904.8 167.43,904.96 167.52,905.12 167.61,905.28 167.69,905.44 167.78,905.61 167.86,905.78 167.94,905.95 168.02,906.12 168.09,906.29 168.17,906.47 168.24,906.65 168.31,906.82 168.37,907 168.44,907.19 168.5,907.37 168.56,907.56 168.61,907.74 168.67,907.93 168.72,908.12 168.76,908.31 168.81,908.51 168.85,908.7 168.9,908.9 168.93,909.09 168.97,909.29 169,909.49 169.03,909.69 169.06,909.9 169.08,910.1 169.11,910.31 169.1,910.48 169.09,910.66 169.07,910.84 169.06,911.02 169.04,911.2 169.02,911.38 169,911.56 168.97,911.75 168.94,911.93 168.91,912.11 168.88,912.29 168.85,912.48 168.81,912.66 168.77,912.84 168.73,913.03 168.68,913.21 168.64,913.4 168.59,913.58 168.53,913.77 168.48,913.95 168.42,914.14 168.36,914.32 168.3,914.51 168.24,914.7 168.17,914.88 168.1,915.07 168.03,915.25 167.96,915.44 167.88,915.62 167.8,915.81 167.72,915.99 167.63,916.18 167.55,916.36 167.46,916.55 167.37,916.73 167.27,916.91 167.17,917.1 167.07,917.28 166.97,917.46 166.87,917.64 166.76,917.83 166.65,918.01 166.54,918.19 166.42,918.37 166.31,918.55 166.19,918.73 166.06,918.9 165.94,919.08 165.81,919.26 165.68,919.43 165.62,919.8 165.55,920.17 165.47,920.54 165.39,920.91 165.3,921.28 165.21,921.65 165.11,922.02 165.01,922.39 164.89,922.75 164.78,923.12 164.65,923.49 164.52,923.86 164.39,924.23 164.25,924.6 164.1,924.96 163.95,925.33 163.79,925.69 163.62,926.06 163.45,926.42 163.28,926.78 163.09,927.14 162.9,927.5 162.71,927.86 162.51,928.22 162.3,928.58 162.09,928.93 161.87,929.28 161.65,929.64 161.42,929.98 161.18,930.33 160.94,930.68 160.69,931.02 160.44,931.37 160.18,931.71 159.91,932.04 159.64,932.38 159.36,932.71 159.08,933.04 158.79,933.37 158.5,933.7 158.2,933.78 157.9,933.86 157.6,933.94 157.3,934.01 157,934.08 156.69,934.15 156.39,934.22 156.08,934.28 155.77,934.34 155.46,934.4 155.15,934.46 154.84,934.51 154.53,934.56 154.21,934.6 153.9,934.65 153.58,934.69 153.27,934.73 152.95,934.76 152.63,934.8 152.31,934.82 151.99,934.85 151.66,934.87 151.34,934.9 151.02,934.91 150.69,934.93 150.36,934.94 150.04,934.95 149.71,934.95 149.38,934.96 149.05,934.96 148.72,934.95 148.39,934.95 148.06,934.94 147.73,934.92 147.4,934.91 147.07,934.89 146.73,934.87 146.4,934.84 146.07,934.81 145.73,934.78 145.4,934.75 145.06,934.71 144.73,934.67 144.39,934.62 144.05,934.58 143.72,934.53 143.38,934.47 143.04,934.41 142.71,934.35 142.37,934.29 142.03,934.22 141.7,934.15 141.36,934.08 141.02,934 140.68,933.92 140.35,933.84 140.01,933.75 139.67,933.66 139.34,933.57 139,933.47 138.66,933.38 138.33,933.27 137.99,933.17 137.66,933.06 137.32,932.94 136.99,932.83 136.65,932.71 136.32,932.59 135.99,932.46 135.65,932.33 135.32,932.2 134.99,932.06 134.66,931.92 134.33,931.78 134,931.63 133.67,931.48 133.34,931.33 133.01,931.17 132.69,931.02 132.36,930.85 132.03,930.69 131.71,930.52 131.39,930.34 131.07,930.17 130.74,929.99 130.42,929.81 130.11,929.62 129.79,929.43 129.47,929.24 129.16,929.04 128.84,928.85 128.53,928.64 128.22,928.44 127.91,928.23 127.6,928.02 127.29,927.8 126.98,927.59 126.68,927.36 126.37,927.14 126.07,926.91 125.77,926.68 125.47,926.45 125.17,926.21 124.88,925.97 124.58,925.72 124.29,925.48 124,925.23 123.71,924.97 123.43,924.72 123.14,924.46 122.86,924.2 122.58,923.93 122.3,923.66 122.02,923.39 121.74,923.12 121.47,922.84 121.2,922.56 120.93,922.28 120.66,921.99 120.39,921.7 120.13,921.41 119.87,921.11 119.61,920.81 119.36,920.51 119.1,920.21 118.85,919.9 118.6,919.59 118.35,919.28 118.11,918.97 117.87,918.65 117.63,918.33 117.39,918 117.16,917.68 116.92,917.35 116.69,917.02 116.47,916.68 116.24,916.35 116.02,916.01 115.8,915.66 115.59,915.32 115.37,914.97 115.16,914.62 114.96,914.27 114.75,913.91 114.55,913.56 114.35,913.2 114.15,912.84 113.96,912.47 113.77,912.1 113.58,911.74 113.4,911.36 113.22,910.99 113.04,910.61 112.87,910.24 112.7,909.85 112.53,909.47 112.36,909.09 112.2,908.7 112.04,908.31 111.89,907.92 111.73,907.53 111.58,907.13 111.44,906.73 111.3,906.33 111.16,905.93 111.02,905.53 110.89,905.12 110.76,904.72 110.64,904.31 110.52,903.9 110.4,903.49 110.28,903.07 110.17,902.66 110.07,902.24 109.96,901.82 109.86,901.4 109.77,900.98 109.67,900.55 109.59,900.13 109.5,899.7 109.39,899.27 109.27,898.84 109.17,898.41 109.06,897.97 108.96,897.54 108.87,897.1 108.78,896.66 108.69,896.22 108.6,895.77 108.52,895.33 108.45,894.88 108.38,894.43 108.31,893.98 108.24,893.53 108.18,893.08 108.13,892.62 108.08,892.16 108.03,891.71 107.99,891.25 107.95,890.79 107.91,890.32 107.88,889.86 107.85,889.4 107.83,888.93 107.81,888.46 107.8,888 107.79,887.53 107.79,887.06 107.79,886.58 107.79,886.11 107.8,885.64 107.81,885.16 107.83,884.69 107.85,884.21 107.87,883.74 107.9,883.26 107.94,882.78 107.98,882.3 108.02,881.82 108.07,881.34 108.12,880.86 108.18,880.38 108.24,879.9 108.31,879.42 108.38,878.94 108.46,878.46 108.54,877.97 108.62,877.49 108.71,877.01 108.8,876.53 108.9,876.04 109.01,875.56 109.11,875.08 109.23,874.59 109.34,874.11 109.47,873.63 109.59,873.15 109.73,872.66 109.86,872.18 110,871.7 109.99,871.13 109.99,870.55 110,869.98 110.01,869.4 110.02,868.82 110.05,868.23 110.08,867.65 110.11,867.06 110.16,866.48 110.21,865.89 110.26,865.29 110.33,864.7 110.4,864.11 110.47,863.51 110.56,862.91 110.65,862.31 110.74,861.71 110.85,861.11 110.96,860.51 111.07,859.91 111.2,859.3 111.33,858.7 111.47,858.09 111.61,857.48 111.77,856.88 111.93,856.27 112.09,855.66 112.27,855.05 112.45,854.44 112.63,853.83 112.83,853.23 113.03,852.62 113.24,852.01 113.46,851.4 113.68,850.79 113.91,850.18 114.15,849.57 114.39,848.96 114.65,848.36 114.91,847.75 115.17,847.14 115.45,846.54 115.73,845.93 116.02,845.33 116.25,844.64 116.49,843.96 116.74,843.27 117,842.58 117.27,841.9 117.55,841.21 117.83,840.53 118.13,839.84 118.43,839.16 118.74,838.48 119.06,837.8 119.39,837.11 119.73,836.43 120.08,835.76 120.43,835.08 120.8,834.4 121.17,833.73 121.56,833.05 121.95,832.38 122.35,831.71 122.76,831.05 123.18,830.38 123.61,829.72 124.04,829.05 124.49,828.4 124.94,827.74 125.41,827.09 125.88,826.43 126.36,825.78 126.85,825.14 127.21,824.15 127.58,823.17 127.96,822.18 128.36,821.19 128.78,820.21 129.21,819.23 129.66,818.25 130.12,817.27 130.59,816.29 131.08,815.32 131.59,814.34 132.11,813.37 132.64,812.4 133.19,811.44 133.76,810.48 134.34,809.52 134.93,808.56 135.54,807.61 136.16,806.66 136.8,805.72 137.46,804.78 138.12,803.84 138.65,802.12 139.2,800.39 139.78,798.67 140.38,796.95 141.02,795.24 141.68,793.52 142.38,791.81 143.1,790.11 143.85,788.41 144.63,786.72 145.43,785.03 146.27,783.34 147.28,783.2 148.3,783.06 149.31,782.94 150.33,782.82 151.34,782.71 152.36,782.61 153.38,782.52 154.41,782.44 155.43,782.37 156.45,782.3 157.47,782.25 158.5,782.2" fill="#2e2e38"/>
<path d="M158.5 899.7L163.24 900.22M158.5 899.7L166.49 902.96M158.5 899.7L168.18 905.06M158.5 899.7L169.42 907.52M158.5 899.7L170.09 909.74M158.5 899.7L170.33 912.3M158.5 899.7L170.04 914.26M158.5 899.7L169.51 916.2M158.5 899.7L168.63 918.36M158.5 899.7L167.5 920.41M158.5 899.7L166.31 923.04M158.5 899.7L165.16 927.01M158.5 899.7L163.69 930.36M158.5 899.7L161.77 933.62M158.5 899.7L159.47 936.68M158.5 899.7L156.95 938.18M158.5 899.7L154.33 938.7M158.5 899.7L151.63 939.03M158.5 899.7L148.87 939.18M158.5 899.7L146.07 939.13M158.5 899.7L143.07 938.86M158.5 899.7L140.09 938.37M158.5 899.7L137.15 937.67M158.5 899.7L134.27 936.75M158.5 899.7L131.46 935.64M158.5 899.7L128.73 934.34M158.5 899.7L126.1 932.85M158.5 899.7L123.58 931.2M158.5 899.7L121.17 929.39M158.5 899.7L119.13 927.64M158.5 899.7L117.2 925.8M158.5 899.7L115.41 923.88M158.5 899.7L113.75 921.91M158.5 899.7L112.23 919.88M158.5 899.7L110.83 917.81M158.5 899.7L109.56 915.72M158.5 899.7L108.41 913.61M158.5 899.7L107.39 911.5M158.5 899.7L106.46 909.33M158.5 899.7L105.64 907.14M158.5 899.7L104.92 904.94M158.5 899.7L104.3 902.74M158.5 899.7L103.79 900.54M158.5 899.7L103.27 898.34M158.5 899.7L102.78 896.14M158.5 899.7L102.39 893.95M158.5 899.7L102.08 891.77M158.5 899.7L101.87 889.56M158.5 899.7L101.74 887.37M158.5 899.7L101.7 885.19M158.5 899.7L101.74 883.03M158.5 899.7L101.86 880.89M158.5 899.7L102.06 878.78M158.5 899.7L102.33 876.71M158.5 899.7L102.66 874.67M158.5 899.7L103.07 872.66M158.5 899.7L103.52 870.73M158.5 899.7L104.04 868.83M158.5 899.7L104.17 866.7M158.5 899.7L104.23 864.5M158.5 899.7L104.37 862.31M158.5 899.7L104.59 860.14M158.5 899.7L104.88 857.99M158.5 899.7L105.24 855.87M158.5 899.7L105.67 853.78M158.5 899.7L106.18 851.66M158.5 899.7L106.75 849.58M158.5 899.7L107.39 847.53M158.5 899.7L108.08 845.52M158.5 899.7L108.83 843.55M158.5 899.7L109.63 841.62M158.5 899.7L110.48 839.74M158.5 899.7L111.27 837.78M158.5 899.7L112.02 835.73M158.5 899.7L112.81 833.77M158.5 899.7L113.64 831.86M158.5 899.7L114.51 829.99M158.5 899.7L115.42 828.17M158.5 899.7L116.37 826.4M158.5 899.7L117.34 824.68M158.5 899.7L118.34 823.02M158.5 899.7L119.37 821.4M158.5 899.7L120.41 819.84M158.5 899.7L121.48 818.31M158.5 899.7L122.57 816.83M158.5 899.7L123.5 814.96M158.5 899.7L124.32 812.82M158.5 899.7L125.18 810.74M158.5 899.7L126.08 808.72M158.5 899.7L127.01 806.75M158.5 899.7L127.96 804.85M158.5 899.7L128.94 803.01M158.5 899.7L129.93 801.23M158.5 899.7L130.94 799.52M158.5 899.7L131.95 797.86M158.5 899.7L132.97 796.27M158.5 899.7L133.99 794.74M158.5 899.7L135.01 793.27M158.5 899.7L135.94 791.46M158.5 899.7L136.72 788.95M158.5 899.7L137.53 786.55M158.5 899.7L138.34 784.45M158.5 899.7L139.47 784.26M158.5 899.7L140.55 784.08M158.5 899.7L141.6 783.93M158.5 899.7L142.61 783.78M158.5 899.7L143.59 783.65M158.5 899.7L144.52 783.54M158.5 899.7L145.41 783.43M158.5 899.7L146.27 783.34M158.5 899.7L147.13 783.25M158.5 899.7L147.95 783.18M158.5 899.7L148.75 783.11M158.5 899.7L149.5 783.05M158.5 899.7L150.23 782.99M158.5 899.7L150.92 782.95M158.5 899.7L151.57 782.91M158.5 899.7L152.2 782.87M158.5 899.7L152.78 782.84M158.5 899.7L153.29 782.82M158.5 899.7L153.78 782.8M158.5 899.7L154.24 782.78M158.5 899.7L154.67 782.76M158.5 899.7L155.08 782.75M158.5 899.7L155.46 782.74M158.5 899.7L155.82 782.73M158.5 899.7L156.15 782.72M158.5 899.7L156.46 782.72M158.5 899.7L156.72 782.71M158.5 899.7L156.97 782.71M158.5 899.7L157.21 782.71M158.5 899.7L157.45 782.7M158.5 899.7L157.68 782.7M158.5 899.7L157.89 782.7M158.5 899.7L158.11 782.7M158.5 899.7L158.31 782.7M158.5 899.7L158.5 782.7" stroke="#2e2e38" stroke-width="1.9" fill="none" stroke-linecap="butt"/>
<g stroke="#000" stroke-width="1.2" stroke-linejoin="round">
<path d="M769.1 899.7L769.1 781.4A118.3 118.3 0 0 1 887.35 903Z" fill="#a8281c"/>
<path d="M769.1 899.7L887.35 903A118.3 118.3 0 0 1 805.66 1012.21Z" fill="#e03010"/>
<path d="M769.1 899.7L805.66 1012.21A118.3 118.3 0 0 1 753.04 1016.91Z" fill="#d8247c"/>
<path d="M769.1 899.7L753.04 1016.91A118.3 118.3 0 0 1 721.93 1008.19Z" fill="#ffa0a0"/>
<path d="M769.1 899.7L721.93 1008.19A118.3 118.3 0 0 1 696.59 993.18Z" fill="#b81c64"/>
<path d="M769.1 899.7L696.59 993.18A118.3 118.3 0 0 1 680.64 978.24Z" fill="#f05850"/>
<path d="M769.1 899.7L680.64 978.24A118.3 118.3 0 0 1 667.22 959.83Z" fill="#f07000"/>
<path d="M769.1 899.7L667.22 959.83A118.3 118.3 0 0 1 658.81 942.48Z" fill="#d8247c"/>
<path d="M769.1 899.7L658.81 942.48A118.3 118.3 0 0 1 653.45 924.6Z" fill="#c87018"/>
<path d="M769.1 899.7L653.45 924.6A118.3 118.3 0 0 1 651.21 909.6Z" fill="#a8281c"/>
<path d="M769.1 899.7L651.21 909.6A118.3 118.3 0 0 1 650.87 895.57Z" fill="#e03010"/>
<path d="M769.1 899.7L650.87 895.57A118.3 118.3 0 0 1 651.79 884.46Z" fill="#d8247c"/>
<path d="M769.1 899.7L651.79 884.46A118.3 118.3 0 0 1 653.65 873.89Z" fill="#ffa0a0"/>
<path d="M769.1 899.7L653.65 873.89A118.3 118.3 0 0 1 656.46 863.54Z" fill="#b81c64"/>
<path d="M769.1 899.7L656.46 863.54A118.3 118.3 0 0 1 660.2 853.48Z" fill="#f05850"/>
<path d="M769.1 899.7L660.2 853.48A118.3 118.3 0 0 1 664.84 843.8Z" fill="#f07000"/>
<path d="M769.1 899.7L664.84 843.8A118.3 118.3 0 0 1 670 835.1Z" fill="#d8247c"/>
<path d="M769.1 899.7L670 835.1A118.3 118.3 0 0 1 675.88 826.87Z" fill="#c87018"/>
<path d="M769.1 899.7L675.88 826.87A118.3 118.3 0 0 1 682.58 819.02Z" fill="#a8281c"/>
<path d="M769.1 899.7L682.58 819.02A118.3 118.3 0 0 1 689.18 812.48Z" fill="#e03010"/>
<path d="M769.1 899.7L689.18 812.48A118.3 118.3 0 0 1 695.78 806.86Z" fill="#d8247c"/>
<path d="M769.1 899.7L695.78 806.86A118.3 118.3 0 0 1 702.26 802.09Z" fill="#ffa0a0"/>
<path d="M769.1 899.7L702.26 802.09A118.3 118.3 0 0 1 710.13 797.15Z" fill="#b81c64"/>
<path d="M769.1 899.7L710.13 797.15A118.3 118.3 0 0 1 716.87 793.55Z" fill="#f05850"/>
<path d="M769.1 899.7L716.87 793.55A118.3 118.3 0 0 1 724.78 790.01Z" fill="#f07000"/>
<path d="M769.1 899.7L724.78 790.01A118.3 118.3 0 0 1 731.76 787.45Z" fill="#d8247c"/>
<path d="M769.1 899.7L731.76 787.45A118.3 118.3 0 0 1 738.08 785.54Z" fill="#c87018"/>
<path d="M769.1 899.7L738.08 785.54A118.3 118.3 0 0 1 743.7 784.16Z" fill="#a8281c"/>
<path d="M769.1 899.7L743.7 784.16A118.3 118.3 0 0 1 749.78 782.99Z" fill="#e03010"/>
<path d="M769.1 899.7L749.78 782.99A118.3 118.3 0 0 1 754.07 782.36Z" fill="#d8247c"/>
<path d="M769.1 899.7L754.07 782.36A118.3 118.3 0 0 1 756.94 782.03Z" fill="#ffa0a0"/>
<path d="M769.1 899.7L756.94 782.03A118.3 118.3 0 0 1 760.44 781.72Z" fill="#b81c64"/>
<path d="M769.1 899.7L760.44 781.72A118.3 118.3 0 0 1 762.7 781.57Z" fill="#f05850"/>
<path d="M769.1 899.7L762.7 781.57A118.3 118.3 0 0 1 764.35 781.5Z" fill="#f07000"/>
<path d="M769.1 899.7L764.35 781.5A118.3 118.3 0 0 1 765.59 781.45Z" fill="#d8247c"/>
<path d="M769.1 899.7L765.59 781.45A118.3 118.3 0 0 1 766.62 781.43Z" fill="#c87018"/>
<path d="M769.1 899.7L766.62 781.43A118.3 118.3 0 0 1 767.45 781.41Z" fill="#a8281c"/>
<path d="M769.1 899.7L767.45 781.41A118.3 118.3 0 0 1 768.27 781.4Z" fill="#e03010"/>
<path d="M769.1 899.7L768.27 781.4A118.3 118.3 0 0 1 769.1 781.4Z" fill="#d8247c"/>
</g>
<circle cx="769.1" cy="899.7" r="118.3" fill="none" stroke="#000" stroke-width="1.2"/>
<polygon points="769.1,899.7 769.11,899.73 769.12,899.77 769.14,899.81 769.15,899.84 769.16,899.88 769.16,899.91 769.17,899.95 769.18,899.98 769.19,900.02 769.2,900.06 769.2,900.09 769.21,900.13 769.21,900.17 769.22,900.21 769.22,900.24 769.22,900.28 769.23,900.32 769.23,900.35 769.23,900.39 769.23,900.43 769.23,900.47 769.23,900.5 769.23,900.54 769.22,900.58 769.22,900.62 769.22,900.66 769.21,900.69 769.21,900.73 769.2,900.77 769.2,900.81 769.19,900.84 769.18,900.88 769.17,900.92 769.17,900.96 769.16,901 769.15,901.03 769.14,901.07 769.12,901.11 769.11,901.14 769.1,901.18 769.09,901.22 769.07,901.26 769.06,901.29 769.04,901.33 769.03,901.37 769.01,901.4 768.99,901.44 768.98,901.47 768.96,901.51 768.94,901.54 768.92,901.58 768.9,901.62 768.88,901.65 768.86,901.69 768.83,901.73 768.81,901.78 768.78,901.83 768.76,901.87 768.73,901.92 768.7,901.97 768.67,902.01 768.64,902.06 768.61,902.1 768.58,902.15 768.55,902.19 768.52,902.23 768.48,902.28 768.45,902.32 768.41,902.36 768.38,902.4 768.34,902.45 768.3,902.49 768.26,902.53 768.22,902.57 768.18,902.61 768.14,902.65 768.1,902.69 768.06,902.73 768.02,902.76 767.97,902.8 767.93,902.84 767.88,902.87 767.84,902.91 767.79,902.95 767.74,902.98 767.69,903.01 767.64,903.05 767.6,903.08 767.54,903.11 767.49,903.14 767.44,903.17 767.39,903.21 767.34,903.23 767.28,903.26 767.23,903.29 767.18,903.32 767.12,903.35 767.06,903.37 767.01,903.4 766.95,903.42 766.89,903.45 766.83,903.47 766.77,903.49 766.72,903.52 766.66,903.54 766.59,903.56 766.53,903.58 766.47,903.6 766.41,903.61 766.35,903.63 766.28,903.65 766.22,903.66 766.16,903.68 766.09,903.69 766,903.74 765.91,903.78 765.83,903.82 765.73,903.86 765.64,903.89 765.55,903.93 765.46,903.96 765.36,904 765.27,904.03 765.17,904.06 765.08,904.09 764.98,904.12 764.88,904.15 764.78,904.17 764.68,904.2 764.58,904.22 764.48,904.24 764.38,904.26 764.27,904.28 764.17,904.3 764.07,904.31 763.96,904.33 763.86,904.34 763.75,904.35 763.64,904.36 763.54,904.37 763.43,904.37 763.32,904.38 763.21,904.38 763.1,904.38 762.99,904.38 762.88,904.38 762.77,904.38 762.66,904.38 762.55,904.37 762.44,904.36 762.33,904.35 762.22,904.34 762.1,904.33 761.99,904.32 761.88,904.3 761.76,904.28 761.65,904.27 761.53,904.25 761.42,904.22 761.31,904.2 761.18,904.18 761.05,904.16 760.93,904.14 760.8,904.11 760.67,904.09 760.55,904.06 760.42,904.03 760.29,904 760.16,903.96 760.04,903.93 759.91,903.89 759.78,903.85 759.65,903.81 759.53,903.76 759.4,903.72 759.27,903.67 759.14,903.62 759.02,903.57 758.89,903.52 758.76,903.46 758.64,903.41 758.51,903.35 758.38,903.29 758.26,903.22 758.13,903.16 758.01,903.09 757.88,903.02 757.76,902.95 757.63,902.88 757.51,902.81 757.39,902.73 757.26,902.65 757.14,902.57 757.02,902.49 756.9,902.41 756.78,902.32 756.65,902.23 756.54,902.14 756.42,902.05 756.3,901.96 756.18,901.86 756.06,901.76 755.95,901.67 755.83,901.56 755.72,901.46 755.6,901.36 755.49,901.25 755.38,901.14 755.26,901.03 755.15,900.92 755.04,900.81 754.93,900.69 754.83,900.57 754.72,900.45 754.61,900.33 754.51,900.21 754.41,900.08 754.3,899.96 754.2,899.83 754.1,899.7 754.05,899.57 754,899.44 753.96,899.3 753.91,899.17 753.86,899.03 753.82,898.9 753.78,898.76 753.74,898.63 753.7,898.49 753.66,898.35 753.62,898.21 753.59,898.07 753.55,897.93 753.52,897.79 753.48,897.64 753.45,897.5 753.42,897.36 753.4,897.21 753.37,897.07 753.34,896.92 753.32,896.78 753.3,896.63 753.27,896.48 753.25,896.33 753.24,896.18 753.22,896.03 753.2,895.88 753.19,895.73 753.17,895.58 753.16,895.43 753.15,895.28 753.14,895.12 753.14,894.97 753.13,894.82 753.13,894.66 753.12,894.51 753.12,894.35 753.12,894.2 753.12,894.04 753.13,893.89 753.13,893.73 753.14,893.57 753.14,893.41 753.15,893.26 753.16,893.1 753.18,892.94 753.19,892.78 753.2,892.62 753.22,892.46 753.24,892.3 753.26,892.14 753.28,891.98 753.3,891.82 753.33,891.66 753.36,891.5 753.38,891.34 753.41,891.18 753.44,891.02 753.48,890.86 753.51,890.7 753.53,890.53 753.56,890.36 753.58,890.19 753.61,890.02 753.64,889.85 753.67,889.68 753.7,889.51 753.74,889.34 753.77,889.16 753.81,888.99 753.85,888.82 753.89,888.65 753.93,888.48 753.98,888.31 754.03,888.13 754.08,887.96 754.13,887.79 754.18,887.62 754.23,887.44 754.29,887.27 754.35,887.1 754.41,886.93 754.47,886.76 754.53,886.59 754.6,886.41 754.67,886.24 754.74,886.07 754.81,885.9 754.88,885.73 754.96,885.56 755.04,885.39 755.11,885.22 755.2,885.05 755.28,884.88 755.36,884.71 755.45,884.54 755.54,884.37 755.63,884.2 755.72,884.04 755.82,883.87 755.91,883.7 756.01,883.54 756.11,883.37 756.21,883.2 756.32,883.04 756.42,882.88 756.53,882.71 756.64,882.55 756.75,882.39 756.86,882.22 756.98,882.06 757.1,881.9 757.21,881.74 757.34,881.58 757.46,881.43 757.58,881.27 757.71,881.11 757.84,880.96 757.97,880.8 758.1,880.65 758.14,880.32 758.18,879.99 758.22,879.66 758.27,879.33 758.33,879 758.39,878.67 758.45,878.34 758.52,878.01 758.6,877.68 758.68,877.34 758.76,877.01 758.85,876.68 758.95,876.35 759.05,876.01 759.15,875.68 759.26,875.35 759.38,875.01 759.5,874.68 759.62,874.35 759.75,874.02 759.89,873.68 760.03,873.35 760.17,873.02 760.32,872.69 760.48,872.36 760.64,872.03 760.81,871.7 760.98,871.37 761.15,871.05 761.34,870.72 761.37,869.83 761.43,868.93 761.5,868.03 761.58,867.13 761.68,866.23 761.79,865.33 761.92,864.42 762.07,863.52 762.23,862.62 762.4,861.71 762.59,860.81 762.8,859.91 763.02,859.01 763.25,858.11 763.39,856.3 763.55,854.48 763.74,852.67 763.97,850.86 764.22,849.05 764.51,847.23 764.83,845.42 765.18,843.61 765.56,841.81 765.16,824.45 765.06,807.08 765.26,789.71 766.04,782.66 767.05,782.5 768.08,782.34 769.1,782.2" fill="#000"/>
<g stroke="#000" stroke-width="1.1" stroke-linejoin="round">
<path d="M156.1 1367.1L156.1 1248.9A118.2 118.2 0 0 1 235.65 1279.68Z" fill="#352c90"/>
<path d="M156.1 1367.1L235.65 1279.68A118.2 118.2 0 0 1 254.55 1301.69Z" fill="#3e3ea8"/>
<path d="M156.1 1367.1L254.55 1301.69A118.2 118.2 0 0 1 265.92 1323.4Z" fill="#4450b0"/>
<path d="M156.1 1367.1L265.92 1323.4A118.2 118.2 0 0 1 272.24 1345.15Z" fill="#7068c8"/>
<path d="M156.1 1367.1L272.24 1345.15A118.2 118.2 0 0 1 274.3 1367.51Z" fill="#88b8e4"/>
<path d="M156.1 1367.1L274.3 1367.51A118.2 118.2 0 0 1 272.36 1388.44Z" fill="#bcd8f4"/>
<path d="M156.1 1367.1L272.36 1388.44A118.2 118.2 0 0 1 268.13 1404.8Z" fill="#e0ecfa"/>
<path d="M156.1 1367.1L268.13 1404.8A118.2 118.2 0 0 1 261.23 1421.13Z" fill="#4450b0"/>
<path d="M156.1 1367.1L261.23 1421.13A118.2 118.2 0 0 1 253.98 1433.37Z" fill="#7068c8"/>
<path d="M156.1 1367.1L253.98 1433.37A118.2 118.2 0 0 1 244.9 1445.11Z" fill="#352c90"/>
<path d="M156.1 1367.1L244.9 1445.11A118.2 118.2 0 0 1 235.5 1454.66Z" fill="#3e3ea8"/>
<path d="M156.1 1367.1L235.5 1454.66A118.2 118.2 0 0 1 225.24 1462.97Z" fill="#4450b0"/>
<path d="M156.1 1367.1L225.24 1462.97A118.2 118.2 0 0 1 214.3 1469.98Z" fill="#7068c8"/>
<path d="M156.1 1367.1L214.3 1469.98A118.2 118.2 0 0 1 204.36 1475Z" fill="#88b8e4"/>
<path d="M156.1 1367.1L204.36 1475A118.2 118.2 0 0 1 194.39 1478.93Z" fill="#bcd8f4"/>
<path d="M156.1 1367.1L194.39 1478.93A118.2 118.2 0 0 1 184.49 1481.84Z" fill="#e0ecfa"/>
<path d="M156.1 1367.1L184.49 1481.84A118.2 118.2 0 0 1 173.16 1484.06Z" fill="#4450b0"/>
<path d="M156.1 1367.1L173.16 1484.06A118.2 118.2 0 0 1 163.93 1485.04Z" fill="#7068c8"/>
<path d="M156.1 1367.1L163.93 1485.04A118.2 118.2 0 0 1 154.04 1485.28Z" fill="#352c90"/>
<path d="M156.1 1367.1L154.04 1485.28A118.2 118.2 0 0 1 144.77 1484.76Z" fill="#3e3ea8"/>
<path d="M156.1 1367.1L144.77 1484.76A118.2 118.2 0 0 1 136.39 1483.64Z" fill="#4450b0"/>
<path d="M156.1 1367.1L136.39 1483.64A118.2 118.2 0 0 1 128.51 1482.03Z" fill="#7068c8"/>
<path d="M156.1 1367.1L128.51 1482.03A118.2 118.2 0 0 1 120.16 1479.7Z" fill="#88b8e4"/>
<path d="M156.1 1367.1L120.16 1479.7A118.2 118.2 0 0 1 112.59 1477Z" fill="#bcd8f4"/>
<path d="M156.1 1367.1L112.59 1477A118.2 118.2 0 0 1 104.84 1473.61Z" fill="#e0ecfa"/>
<path d="M156.1 1367.1L104.84 1473.61A118.2 118.2 0 0 1 97.9 1469.98Z" fill="#4450b0"/>
<path d="M156.1 1367.1L97.9 1469.98A118.2 118.2 0 0 1 91.03 1465.78Z" fill="#7068c8"/>
<path d="M156.1 1367.1L91.03 1465.78A118.2 118.2 0 0 1 84.97 1461.5Z" fill="#352c90"/>
<path d="M156.1 1367.1L84.97 1461.5A118.2 118.2 0 0 1 77.97 1455.8Z" fill="#3e3ea8"/>
<path d="M156.1 1367.1L77.97 1455.8A118.2 118.2 0 0 1 71.73 1449.89Z" fill="#4450b0"/>
<path d="M156.1 1367.1L71.73 1449.89A118.2 118.2 0 0 1 66.22 1443.86Z" fill="#7068c8"/>
<path d="M156.1 1367.1L66.22 1443.86A118.2 118.2 0 0 1 62 1438.63Z" fill="#88b8e4"/>
<path d="M156.1 1367.1L62 1438.63A118.2 118.2 0 0 1 58.16 1433.27Z" fill="#bcd8f4"/>
<path d="M156.1 1367.1L58.16 1433.27A118.2 118.2 0 0 1 54.69 1427.82Z" fill="#e0ecfa"/>
<path d="M156.1 1367.1L54.69 1427.82A118.2 118.2 0 0 1 51.59 1422.31Z" fill="#4450b0"/>
<path d="M156.1 1367.1L51.59 1422.31A118.2 118.2 0 0 1 48.84 1416.77Z" fill="#7068c8"/>
<path d="M156.1 1367.1L48.84 1416.77A118.2 118.2 0 0 1 46.44 1411.21Z" fill="#352c90"/>
<path d="M156.1 1367.1L46.44 1411.21A118.2 118.2 0 0 1 44.37 1405.67Z" fill="#3e3ea8"/>
<path d="M156.1 1367.1L44.37 1405.67A118.2 118.2 0 0 1 42.62 1400.15Z" fill="#4450b0"/>
<path d="M156.1 1367.1L42.62 1400.15A118.2 118.2 0 0 1 41.17 1394.69Z" fill="#7068c8"/>
<path d="M156.1 1367.1L41.17 1394.69A118.2 118.2 0 0 1 39.88 1388.66Z" fill="#88b8e4"/>
<path d="M156.1 1367.1L39.88 1388.66A118.2 118.2 0 0 1 38.92 1382.62Z" fill="#bcd8f4"/>
<path d="M156.1 1367.1L38.92 1382.62A118.2 118.2 0 0 1 38.28 1376.59Z" fill="#e0ecfa"/>
<path d="M156.1 1367.1L38.28 1376.59A118.2 118.2 0 0 1 37.95 1370.59Z" fill="#4450b0"/>
<path d="M156.1 1367.1L37.95 1370.59A118.2 118.2 0 0 1 37.93 1364.63Z" fill="#7068c8"/>
<path d="M156.1 1367.1L37.93 1364.63A118.2 118.2 0 0 1 38.2 1358.73Z" fill="#352c90"/>
<path d="M156.1 1367.1L38.2 1358.73A118.2 118.2 0 0 1 38.76 1352.9Z" fill="#3e3ea8"/>
<path d="M156.1 1367.1L38.76 1352.9A118.2 118.2 0 0 1 39.59 1347.16Z" fill="#4450b0"/>
<path d="M156.1 1367.1L39.59 1347.16A118.2 118.2 0 0 1 40.7 1341.52Z" fill="#7068c8"/>
<path d="M156.1 1367.1L40.7 1341.52A118.2 118.2 0 0 1 42 1336.23Z" fill="#88b8e4"/>
<path d="M156.1 1367.1L42 1336.23A118.2 118.2 0 0 1 43.53 1331.05Z" fill="#bcd8f4"/>
<path d="M156.1 1367.1L43.53 1331.05A118.2 118.2 0 0 1 45.28 1325.98Z" fill="#e0ecfa"/>
<path d="M156.1 1367.1L45.28 1325.98A118.2 118.2 0 0 1 47.24 1321.04Z" fill="#4450b0"/>
<path d="M156.1 1367.1L47.24 1321.04A118.2 118.2 0 0 1 49.4 1316.24Z" fill="#7068c8"/>
<path d="M156.1 1367.1L49.4 1316.24A118.2 118.2 0 0 1 51.76 1311.57Z" fill="#352c90"/>
<path d="M156.1 1367.1L51.76 1311.57A118.2 118.2 0 0 1 54.29 1307.04Z" fill="#3e3ea8"/>
<path d="M156.1 1367.1L54.29 1307.04A118.2 118.2 0 0 1 57 1302.67Z" fill="#4450b0"/>
<path d="M156.1 1367.1L57 1302.67A118.2 118.2 0 0 1 59.87 1298.46Z" fill="#7068c8"/>
<path d="M156.1 1367.1L59.87 1298.46A118.2 118.2 0 0 1 63.16 1294.07Z" fill="#88b8e4"/>
<path d="M156.1 1367.1L63.16 1294.07A118.2 118.2 0 0 1 66.59 1289.91Z" fill="#bcd8f4"/>
<path d="M156.1 1367.1L66.59 1289.91A118.2 118.2 0 0 1 70.15 1285.96Z" fill="#e0ecfa"/>
<path d="M156.1 1367.1L70.15 1285.96A118.2 118.2 0 0 1 73.83 1282.23Z" fill="#4450b0"/>
<path d="M156.1 1367.1L73.83 1282.23A118.2 118.2 0 0 1 77.61 1278.72Z" fill="#7068c8"/>
<path d="M156.1 1367.1L77.61 1278.72A118.2 118.2 0 0 1 81.48 1275.43Z" fill="#352c90"/>
<path d="M156.1 1367.1L81.48 1275.43A118.2 118.2 0 0 1 85.42 1272.36Z" fill="#3e3ea8"/>
<path d="M156.1 1367.1L85.42 1272.36A118.2 118.2 0 0 1 89.42 1269.51Z" fill="#4450b0"/>
<path d="M156.1 1367.1L89.42 1269.51A118.2 118.2 0 0 1 93.46 1266.86Z" fill="#7068c8"/>
<path d="M156.1 1367.1L93.46 1266.86A118.2 118.2 0 0 1 97.37 1264.53Z" fill="#88b8e4"/>
<path d="M156.1 1367.1L97.37 1264.53A118.2 118.2 0 0 1 101.21 1262.42Z" fill="#bcd8f4"/>
<path d="M156.1 1367.1L101.21 1262.42A118.2 118.2 0 0 1 104.98 1260.52Z" fill="#e0ecfa"/>
<path d="M156.1 1367.1L104.98 1260.52A118.2 118.2 0 0 1 108.67 1258.83Z" fill="#4450b0"/>
<path d="M156.1 1367.1L108.67 1258.83A118.2 118.2 0 0 1 112.27 1257.33Z" fill="#7068c8"/>
<path d="M156.1 1367.1L112.27 1257.33A118.2 118.2 0 0 1 115.76 1256Z" fill="#352c90"/>
<path d="M156.1 1367.1L115.76 1256A118.2 118.2 0 0 1 119.13 1254.83Z" fill="#3e3ea8"/>
<path d="M156.1 1367.1L119.13 1254.83A118.2 118.2 0 0 1 122.38 1253.81Z" fill="#4450b0"/>
<path d="M156.1 1367.1L122.38 1253.81A118.2 118.2 0 0 1 125.51 1252.93Z" fill="#7068c8"/>
<path d="M156.1 1367.1L125.51 1252.93A118.2 118.2 0 0 1 128.4 1252.19Z" fill="#88b8e4"/>
<path d="M156.1 1367.1L128.4 1252.19A118.2 118.2 0 0 1 131.14 1251.57Z" fill="#bcd8f4"/>
<path d="M156.1 1367.1L131.14 1251.57A118.2 118.2 0 0 1 133.73 1251.04Z" fill="#e0ecfa"/>
<path d="M156.1 1367.1L133.73 1251.04A118.2 118.2 0 0 1 136.15 1250.6Z" fill="#4450b0"/>
<path d="M156.1 1367.1L136.15 1250.6A118.2 118.2 0 0 1 138.41 1250.23Z" fill="#7068c8"/>
<path d="M156.1 1367.1L138.41 1250.23A118.2 118.2 0 0 1 140.51 1249.93Z" fill="#352c90"/>
<path d="M156.1 1367.1L140.51 1249.93A118.2 118.2 0 0 1 142.44 1249.69Z" fill="#3e3ea8"/>
<path d="M156.1 1367.1L142.44 1249.69A118.2 118.2 0 0 1 144.21 1249.5Z" fill="#4450b0"/>
<path d="M156.1 1367.1L144.21 1249.5A118.2 118.2 0 0 1 145.8 1249.35Z" fill="#7068c8"/>
<path d="M156.1 1367.1L145.8 1249.35A118.2 118.2 0 0 1 146.88 1249.26Z" fill="#88b8e4"/>
<path d="M156.1 1367.1L146.88 1249.26A118.2 118.2 0 0 1 147.88 1249.19Z" fill="#bcd8f4"/>
<path d="M156.1 1367.1L147.88 1249.19A118.2 118.2 0 0 1 148.79 1249.13Z" fill="#e0ecfa"/>
<path d="M156.1 1367.1L148.79 1249.13A118.2 118.2 0 0 1 149.63 1249.08Z" fill="#4450b0"/>
<path d="M156.1 1367.1L149.63 1249.08A118.2 118.2 0 0 1 150.39 1249.04Z" fill="#7068c8"/>
<path d="M156.1 1367.1L150.39 1249.04A118.2 118.2 0 0 1 151.06 1249.01Z" fill="#352c90"/>
<path d="M156.1 1367.1L151.06 1249.01A118.2 118.2 0 0 1 151.65 1248.98Z" fill="#3e3ea8"/>
<path d="M156.1 1367.1L151.65 1248.98A118.2 118.2 0 0 1 152.16 1248.97Z" fill="#4450b0"/>
<path d="M156.1 1367.1L152.16 1248.97A118.2 118.2 0 0 1 152.59 1248.95Z" fill="#7068c8"/>
<path d="M156.1 1367.1L152.59 1248.95A118.2 118.2 0 0 1 152.99 1248.94Z" fill="#88b8e4"/>
<path d="M156.1 1367.1L152.99 1248.94A118.2 118.2 0 0 1 153.37 1248.93Z" fill="#bcd8f4"/>
<path d="M156.1 1367.1L153.37 1248.93A118.2 118.2 0 0 1 153.72 1248.92Z" fill="#e0ecfa"/>
<path d="M156.1 1367.1L153.72 1248.92A118.2 118.2 0 0 1 154.04 1248.92Z" fill="#4450b0"/>
<path d="M156.1 1367.1L154.04 1248.92A118.2 118.2 0 0 1 154.34 1248.91Z" fill="#7068c8"/>
<path d="M156.1 1367.1L154.34 1248.91A118.2 118.2 0 0 1 154.61 1248.91Z" fill="#352c90"/>
<path d="M156.1 1367.1L154.61 1248.91A118.2 118.2 0 0 1 154.86 1248.91Z" fill="#3e3ea8"/>
<path d="M156.1 1367.1L154.86 1248.91A118.2 118.2 0 0 1 155.08 1248.9Z" fill="#4450b0"/>
<path d="M156.1 1367.1L155.08 1248.9A118.2 118.2 0 0 1 155.27 1248.9Z" fill="#7068c8"/>
<path d="M156.1 1367.1L155.27 1248.9A118.2 118.2 0 0 1 155.46 1248.9Z" fill="#88b8e4"/>
<path d="M156.1 1367.1L155.46 1248.9A118.2 118.2 0 0 1 155.64 1248.9Z" fill="#bcd8f4"/>
<path d="M156.1 1367.1L155.64 1248.9A118.2 118.2 0 0 1 155.8 1248.9Z" fill="#e0ecfa"/>
<path d="M156.1 1367.1L155.8 1248.9A118.2 118.2 0 0 1 155.96 1248.9Z" fill="#4450b0"/>
<path d="M156.1 1367.1L155.96 1248.9A118.2 118.2 0 0 1 156.1 1248.9Z" fill="#7068c8"/>
</g>
<circle cx="156.1" cy="1367.1" r="118.2" fill="none" stroke="#000" stroke-width="1.1"/>
<polygon points="156.1,1367.1 156.1,1367.08 156.1,1367.06 156.1,1367.03 156.1,1367.01 156.1,1366.99 156.11,1366.97 156.11,1366.94 156.11,1366.92 156.12,1366.9 156.12,1366.88 156.12,1366.86 156.13,1366.83 156.13,1366.81 156.14,1366.79 156.14,1366.77 156.15,1366.75 156.16,1366.73 156.16,1366.7 156.17,1366.68 156.18,1366.66 156.19,1366.64 156.19,1366.62 156.2,1366.6 156.21,1366.58 156.22,1366.56 156.23,1366.54 156.24,1366.52 156.25,1366.5 156.26,1366.48 156.27,1366.46 156.28,1366.44 156.3,1366.42 156.31,1366.4 156.32,1366.38 156.33,1366.36 156.35,1366.34 156.36,1366.32 156.37,1366.3 156.39,1366.28 156.4,1366.26 156.42,1366.25 156.43,1366.23 156.45,1366.21 156.47,1366.19 156.48,1366.18 156.5,1366.16 156.52,1366.14 156.53,1366.13 156.55,1366.11 156.57,1366.09 156.59,1366.08 156.61,1366.06 156.63,1366.05 156.64,1366.03 156.66,1366.02 156.68,1366 156.7,1365.99 156.72,1365.97 156.75,1365.96 156.77,1365.95 156.79,1365.93 156.81,1365.92 156.83,1365.91 156.85,1365.89 156.88,1365.88 156.9,1365.87 156.92,1365.86 156.95,1365.85 156.97,1365.84 156.99,1365.83 157.02,1365.82 157.04,1365.81 157.06,1365.8 157.09,1365.79 157.11,1365.78 157.14,1365.77 157.17,1365.76 157.19,1365.75 157.22,1365.75 157.24,1365.74 157.27,1365.73 157.3,1365.72 157.32,1365.72 157.35,1365.71 157.38,1365.71 157.4,1365.7 157.43,1365.7 157.46,1365.69 157.49,1365.69 157.51,1365.69 157.55,1365.67 157.59,1365.66 157.62,1365.65 157.66,1365.65 157.7,1365.64 157.73,1365.63 157.77,1365.62 157.81,1365.61 157.85,1365.61 157.89,1365.6 157.93,1365.59 157.97,1365.59 158,1365.59 158.04,1365.58 158.08,1365.58 158.12,1365.58 158.16,1365.57 158.2,1365.57 158.24,1365.57 158.28,1365.57 158.33,1365.57 158.37,1365.57 158.41,1365.57 158.45,1365.58 158.49,1365.58 158.53,1365.58 158.57,1365.58 158.61,1365.59 158.66,1365.59 158.7,1365.6 158.74,1365.61 158.78,1365.61 158.82,1365.62 158.87,1365.63 158.91,1365.64 158.95,1365.65 158.99,1365.66 159.04,1365.67 159.08,1365.68 159.12,1365.69 159.16,1365.7 159.21,1365.72 159.25,1365.73 159.29,1365.75 159.33,1365.76 159.38,1365.78 159.42,1365.79 159.46,1365.81 159.5,1365.83 159.55,1365.85 159.59,1365.86 159.63,1365.88 159.67,1365.9 159.71,1365.93 159.76,1365.95 159.8,1365.97 159.84,1365.99 159.88,1366.02 159.92,1366.04 159.96,1366.06 160,1366.09 160.05,1366.12 160.09,1366.14 160.13,1366.17 160.17,1366.2 160.21,1366.23 160.25,1366.26 160.29,1366.29 160.33,1366.32 160.37,1366.35 160.41,1366.38 160.45,1366.41 160.48,1366.44 160.52,1366.48 160.56,1366.51 160.6,1366.55 160.64,1366.58 160.67,1366.62 160.71,1366.66 160.75,1366.69 160.79,1366.73 160.82,1366.77 160.86,1366.81 160.89,1366.85 160.93,1366.89 160.96,1366.93 161,1366.97 161.03,1367.01 161.07,1367.06 161.1,1367.1 161.13,1367.14 161.17,1367.19 161.2,1367.23 161.23,1367.28 161.26,1367.33 161.29,1367.37 161.32,1367.42 161.35,1367.47 161.38,1367.52 161.41,1367.56 161.44,1367.61 161.47,1367.66 161.5,1367.72 161.53,1367.77 161.55,1367.82 161.58,1367.87 161.61,1367.92 161.63,1367.98 161.66,1368.03 161.68,1368.08 161.7,1368.14 161.73,1368.19 161.75,1368.25 161.77,1368.31 161.8,1368.36 161.82,1368.42 161.84,1368.48 161.86,1368.54 161.88,1368.59 161.9,1368.65 161.91,1368.71 161.93,1368.77 161.95,1368.83 161.97,1368.89 161.98,1368.95 162,1369.02 162.01,1369.08 162.03,1369.14 162.04,1369.2 162.05,1369.27 162.06,1369.33 162.07,1369.39 162.09,1369.46 162.1,1369.52 162.11,1369.59 162.11,1369.65 162.12,1369.72 162.13,1369.78 162.14,1369.85 162.14,1369.92 162.15,1369.98 162.15,1370.05 162.16,1370.12 162.16,1370.19 162.16,1370.26 162.16,1370.32 162.16,1370.39 162.16,1370.46 162.16,1370.53 162.16,1370.6 162.16,1370.67 162.16,1370.74 162.15,1370.81 162.15,1370.88 162.14,1370.95 162.14,1371.02 162.13,1371.09 162.12,1371.16 162.12,1371.23 162.11,1371.31 162.1,1371.38 162.09,1371.45 162.08,1371.52 162.06,1371.59 162.05,1371.67 162.04,1371.74 162.02,1371.81 162.01,1371.88 161.99,1371.96 161.97,1372.03 161.96,1372.1 161.94,1372.17 161.92,1372.25 161.9,1372.32 161.88,1372.39 161.85,1372.47 161.83,1372.54 161.81,1372.61 161.78,1372.68 161.76,1372.76 161.75,1372.85 161.75,1372.95 161.74,1373.05 161.74,1373.15 161.73,1373.24 161.72,1373.34 161.71,1373.44 161.7,1373.54 161.69,1373.64 161.67,1373.74 161.66,1373.84 161.64,1373.94 161.62,1374.04 161.6,1374.14 161.58,1374.24 161.56,1374.34 161.53,1374.44 161.51,1374.54 161.48,1374.64 161.45,1374.75 161.42,1374.85 161.39,1374.95 161.36,1375.05 161.33,1375.15 161.29,1375.25 161.26,1375.35 161.22,1375.46 161.18,1375.56 161.14,1375.66 161.1,1375.76 161.06,1375.86 161.01,1375.96 160.97,1376.06 160.92,1376.16 160.87,1376.27 160.82,1376.37 160.77,1376.47 160.72,1376.57 160.66,1376.67 160.61,1376.77 160.55,1376.87 160.49,1376.97 160.43,1377.07 160.37,1377.16 160.31,1377.26 160.25,1377.36 160.18,1377.46 160.11,1377.56 160.05,1377.65 159.98,1377.75 159.91,1377.85 159.83,1377.94 159.76,1378.04 159.68,1378.13 159.61,1378.23 159.53,1378.32 159.45,1378.41 159.37,1378.51 159.29,1378.6 159.21,1378.69 159.12,1378.78 159.04,1378.87 158.95,1378.96 158.86,1379.05 158.77,1379.14 158.68,1379.23 158.59,1379.32 158.49,1379.4 158.4,1379.49 158.3,1379.57 158.2,1379.66 158.1,1379.74 158,1379.83 157.9,1379.91 157.8,1379.99 157.69,1380.07 157.59,1380.15 157.48,1380.23 157.37,1380.31 157.26,1380.38 157.15,1380.46 157.04,1380.53 156.93,1380.61 156.81,1380.68 156.7,1380.75 156.58,1380.82 156.46,1380.9 156.34,1380.96 156.22,1381.03 156.1,1381.1 155.98,1381.18 155.85,1381.25 155.73,1381.33 155.6,1381.4 155.47,1381.48 155.34,1381.55 155.21,1381.62 155.08,1381.69 154.95,1381.75 154.81,1381.82 154.68,1381.89 154.54,1381.95 154.4,1382.01 154.26,1382.08 154.12,1382.14 153.98,1382.2 153.84,1382.25 153.69,1382.31 153.55,1382.37 153.4,1382.42 153.25,1382.47 153.1,1382.52 152.95,1382.57 152.8,1382.62 152.65,1382.67 152.5,1382.71 152.34,1382.76 152.19,1382.8 152.03,1382.84 151.87,1382.88 151.71,1382.91 151.56,1382.95 151.39,1382.98 151.23,1383.02 151.07,1383.05 150.91,1383.08 150.74,1383.11 150.58,1383.13 150.41,1383.16 150.25,1383.18 150.08,1383.2 149.91,1383.22 149.74,1383.24 149.57,1383.25 149.4,1383.27 149.23,1383.28 149.06,1383.29 148.89,1383.3 148.71,1383.31 148.54,1383.31 148.37,1383.32 148.19,1383.32 148.01,1383.32 147.84,1383.32 147.66,1383.31 147.48,1383.31 147.3,1383.3 147.13,1383.29 146.95,1383.28 146.77,1383.27 146.59,1383.25 146.41,1383.23 146.22,1383.21 146.04,1383.19 145.86,1383.17 145.68,1383.15 145.5,1383.12 145.31,1383.09 145.13,1383.06 144.95,1383.03 144.76,1382.99 144.58,1382.96 144.4,1382.92 144.21,1382.88 144.03,1382.83 143.84,1382.79 143.66,1382.74 143.47,1382.69 143.29,1382.64 143.1,1382.59 142.92,1382.54 142.73,1382.48 142.55,1382.42 142.36,1382.36 142.18,1382.3 141.99,1382.23 141.81,1382.16 141.62,1382.09 141.44,1382.02 141.25,1381.95 141.1,1381.84 140.95,1381.73 140.79,1381.62 140.64,1381.51 140.49,1381.4 140.35,1381.29 140.2,1381.17 140.05,1381.05 139.9,1380.93 139.76,1380.81 139.61,1380.69 139.47,1380.57 139.33,1380.44 139.18,1380.32 139.04,1380.19 138.9,1380.06 138.76,1379.93 138.63,1379.8 138.49,1379.66 138.35,1379.53 138.22,1379.39 138.08,1379.25 137.95,1379.11 137.82,1378.97 137.69,1378.83 137.56,1378.69 137.43,1378.54 137.3,1378.4 137.17,1378.25 137.05,1378.1 136.92,1377.95 136.8,1377.8 136.68,1377.65 136.56,1377.49 136.44,1377.34 136.32,1377.18 136.2,1377.02 136.09,1376.86 135.97,1376.7 135.86,1376.54 135.75,1376.38 135.64,1376.21 135.53,1376.05 135.42,1375.88 135.31,1375.71 135.21,1375.54 135.1,1375.37 135,1375.2 134.9,1375.03 134.8,1374.85 134.7,1374.68 134.61,1374.5 134.51,1374.32 134.42,1374.15 134.32,1373.97 134.23,1373.79 134.14,1373.6 134.06,1373.42 133.97,1373.24 133.88,1373.05 133.8,1372.87 133.72,1372.68 133.64,1372.49 133.56,1372.3 133.48,1372.11 133.41,1371.92 133.33,1371.73 133.26,1371.54 133.19,1371.35 133.12,1371.15 133.05,1370.96 132.99,1370.76 132.92,1370.56 132.86,1370.37 132.8,1370.17 132.74,1369.97 132.68,1369.77 132.63,1369.57 132.58,1369.37 132.52,1369.16 132.47,1368.96 132.42,1368.76 132.38,1368.55 132.33,1368.35 132.29,1368.14 132.25,1367.93 132.21,1367.73 132.17,1367.52 132.13,1367.31 132.1,1367.1 132.07,1366.89 132.04,1366.68 132.01,1366.47 131.98,1366.26 131.96,1366.05 131.93,1365.83 131.91,1365.62 131.89,1365.41 131.87,1365.19 131.86,1364.98 131.85,1364.76 131.83,1364.55 131.82,1364.33 131.82,1364.12 131.81,1363.9 131.81,1363.69 131.8,1363.47 131.8,1363.25 131.8,1363.03 131.81,1362.82 131.81,1362.6 131.82,1362.38 131.83,1362.16 131.84,1361.94 131.86,1361.73 131.87,1361.51 131.89,1361.29 131.91,1361.07 131.93,1360.85 131.95,1360.63 131.98,1360.41 132,1360.19 132.03,1359.97 132.06,1359.75 132.1,1359.53 132.13,1359.31 132.17,1359.09 132.21,1358.87 132.25,1358.65 132.29,1358.44 132.34,1358.22 132.39,1358 132.44,1357.78 132.49,1357.56 132.54,1357.34 132.6,1357.12 132.65,1356.91 132.71,1356.69 132.77,1356.47 132.84,1356.25 132.9,1356.04 132.97,1355.82 133.04,1355.6 133.11,1355.39 133.19,1355.17 133.26,1354.96 133.34,1354.74 133.42,1354.53 133.5,1354.31 133.58,1354.1 133.67,1353.89 133.76,1353.67 133.85,1353.46 133.94,1353.25 134.03,1353.04 134.13,1352.83 134.22,1352.62 134.32,1352.41 134.43,1352.2 134.53,1352 134.63,1351.79 134.74,1351.58 134.85,1351.38 134.96,1351.17 135.08,1350.97 135.19,1350.76 135.31,1350.56 135.43,1350.36 135.55,1350.16 135.67,1349.96 135.8,1349.76 135.92,1349.56 136.05,1349.36 136.18,1349.17 136.32,1348.97 136.45,1348.78 136.59,1348.58 136.73,1348.39 136.87,1348.2 137.01,1348.01 136.97,1347.63 136.93,1347.25 136.89,1346.86 136.87,1346.48 136.85,1346.09 136.83,1345.7 136.82,1345.31 136.81,1344.91 136.81,1344.52 136.82,1344.12 136.83,1343.72 136.84,1343.32 136.86,1342.92 136.89,1342.51 136.92,1342.11 136.96,1341.7 137.01,1341.3 137.06,1340.89 137.11,1340.48 137.17,1340.07 137.24,1339.66 137.31,1339.24 137.39,1338.83 137.47,1338.42 137.56,1338 137.66,1337.59 137.76,1337.17 137.87,1336.76 137.98,1336.34 138.1,1335.92 138.23,1335.51 138.36,1335.09 138.49,1334.67 138.64,1334.25 138.78,1333.84 138.94,1333.42 139.1,1333 139.27,1332.59 139.44,1332.17 139.62,1331.75 139.8,1331.34 139.99,1330.92 140.19,1330.51 140.39,1330.1 140.6,1329.68 140.82,1329.27 141.04,1328.86 141.26,1328.45 141.5,1328.04 141.74,1327.63 141.78,1326.66 141.84,1325.69 141.92,1324.71 142.01,1323.73 142.12,1322.75 142.24,1321.77 142.38,1320.79 142.54,1319.81 142.71,1318.82 142.9,1317.84 143.11,1316.85 143.33,1315.87 143.56,1314.88 143.82,1313.9 144.09,1312.92 144.37,1311.93 144.68,1310.95 144.99,1309.97 145.33,1308.99 145.68,1308.01 145.87,1305.95 146.09,1303.89 146.34,1301.82 146.64,1299.76 146.96,1297.7 147.33,1295.64 147.72,1293.58 148.16,1291.52 148.62,1289.46 149.13,1287.4 148.86,1275.05 148.8,1262.69 148.96,1250.32 149.97,1250.19 150.99,1250.07 152.01,1249.96 153.03,1249.85 154.05,1249.76 155.08,1249.68 156.1,1249.6" fill="#000"/>
<g stroke="#000" stroke-width="1.2" stroke-linejoin="round">
<path d="M768.5 1362.2L768.5 1243.8A118.4 118.4 0 0 1 858.67 1285.46Z" fill="#a8281c"/>
<path d="M768.5 1362.2L858.67 1285.46A118.4 118.4 0 0 1 886.78 1367.57Z" fill="#e03010"/>
<path d="M768.5 1362.2L886.78 1367.57A118.4 118.4 0 0 1 859.73 1437.67Z" fill="#d8247c"/>
<path d="M768.5 1362.2L859.73 1437.67A118.4 118.4 0 0 1 826.08 1465.65Z" fill="#ffa0a0"/>
<path d="M768.5 1362.2L826.08 1465.65A118.4 118.4 0 0 1 790.28 1478.58Z" fill="#b81c64"/>
<path d="M768.5 1362.2L790.28 1478.58A118.4 118.4 0 0 1 753.05 1479.59Z" fill="#f05850"/>
<path d="M768.5 1362.2L753.05 1479.59A118.4 118.4 0 0 1 716.97 1468.8Z" fill="#f07000"/>
<path d="M768.5 1362.2L716.97 1468.8A118.4 118.4 0 0 1 688.36 1449.35Z" fill="#d8247c"/>
<path d="M768.5 1362.2L688.36 1449.35A118.4 118.4 0 0 1 673.2 1432.46Z" fill="#c87018"/>
<path d="M768.5 1362.2L673.2 1432.46A118.4 118.4 0 0 1 661.9 1413.73Z" fill="#a8281c"/>
<path d="M768.5 1362.2L661.9 1413.73A118.4 118.4 0 0 1 655.03 1396.03Z" fill="#e03010"/>
<path d="M768.5 1362.2L655.03 1396.03A118.4 118.4 0 0 1 651.49 1380.31Z" fill="#d8247c"/>
<path d="M768.5 1362.2L651.49 1380.31A118.4 118.4 0 0 1 650.14 1365.09Z" fill="#ffa0a0"/>
<path d="M768.5 1362.2L650.14 1365.09A118.4 118.4 0 0 1 650.55 1351.88Z" fill="#b81c64"/>
<path d="M768.5 1362.2L650.55 1351.88A118.4 118.4 0 0 1 652.2 1340.01Z" fill="#f05850"/>
<path d="M768.5 1362.2L652.2 1340.01A118.4 118.4 0 0 1 654.98 1328.57Z" fill="#f07000"/>
<path d="M768.5 1362.2L654.98 1328.57A118.4 118.4 0 0 1 658.49 1318.42Z" fill="#d8247c"/>
<path d="M768.5 1362.2L658.49 1318.42A118.4 118.4 0 0 1 662.72 1309Z" fill="#c87018"/>
<path d="M768.5 1362.2L662.72 1309A118.4 118.4 0 0 1 667.98 1299.63Z" fill="#a8281c"/>
<path d="M768.5 1362.2L667.98 1299.63A118.4 118.4 0 0 1 673.69 1291.28Z" fill="#e03010"/>
<path d="M768.5 1362.2L673.69 1291.28A118.4 118.4 0 0 1 680.51 1282.97Z" fill="#d8247c"/>
<path d="M768.5 1362.2L680.51 1282.97A118.4 118.4 0 0 1 687 1276.32Z" fill="#ffa0a0"/>
<path d="M768.5 1362.2L687 1276.32A118.4 118.4 0 0 1 694.63 1269.67Z" fill="#b81c64"/>
<path d="M768.5 1362.2L694.63 1269.67A118.4 118.4 0 0 1 701.95 1264.27Z" fill="#f05850"/>
<path d="M768.5 1362.2L701.95 1264.27A118.4 118.4 0 0 1 708.94 1259.87Z" fill="#f07000"/>
<path d="M768.5 1362.2L708.94 1259.87A118.4 118.4 0 0 1 716.41 1255.87Z" fill="#d8247c"/>
<path d="M768.5 1362.2L716.41 1255.87A118.4 118.4 0 0 1 723.57 1252.66Z" fill="#c87018"/>
<path d="M768.5 1362.2L723.57 1252.66A118.4 118.4 0 0 1 730.54 1250.05Z" fill="#a8281c"/>
<path d="M768.5 1362.2L730.54 1250.05A118.4 118.4 0 0 1 736.86 1248.11Z" fill="#e03010"/>
<path d="M768.5 1362.2L736.86 1248.11A118.4 118.4 0 0 1 742.67 1246.65Z" fill="#d8247c"/>
<path d="M768.5 1362.2L742.67 1246.65A118.4 118.4 0 0 1 748.75 1245.46Z" fill="#ffa0a0"/>
<path d="M768.5 1362.2L748.75 1245.46A118.4 118.4 0 0 1 753.87 1244.71Z" fill="#b81c64"/>
<path d="M768.5 1362.2L753.87 1244.71A118.4 118.4 0 0 1 757.97 1244.27Z" fill="#f05850"/>
<path d="M768.5 1362.2L757.97 1244.27A118.4 118.4 0 0 1 762.51 1243.95Z" fill="#f07000"/>
<path d="M768.5 1362.2L762.51 1243.95A118.4 118.4 0 0 1 764.16 1243.88Z" fill="#d8247c"/>
<path d="M768.5 1362.2L764.16 1243.88A118.4 118.4 0 0 1 765.4 1243.84Z" fill="#c87018"/>
<path d="M768.5 1362.2L765.4 1243.84A118.4 118.4 0 0 1 766.43 1243.82Z" fill="#a8281c"/>
<path d="M768.5 1362.2L766.43 1243.82A118.4 118.4 0 0 1 767.26 1243.81Z" fill="#e03010"/>
<path d="M768.5 1362.2L767.26 1243.81A118.4 118.4 0 0 1 767.88 1243.8Z" fill="#d8247c"/>
<path d="M768.5 1362.2L767.88 1243.8A118.4 118.4 0 0 1 768.5 1243.8Z" fill="#ffa0a0"/>
</g>
<circle cx="768.5" cy="1362.2" r="118.4" fill="none" stroke="#000" stroke-width="1.2"/>
<polygon points="768.5,1362.2 768.51,1362.22 768.53,1362.25 768.54,1362.27 768.55,1362.3 768.56,1362.32 768.57,1362.34 768.58,1362.37 768.59,1362.39 768.6,1362.42 768.61,1362.44 768.62,1362.47 768.63,1362.5 768.64,1362.52 768.65,1362.55 768.66,1362.57 768.66,1362.6 768.67,1362.63 768.67,1362.65 768.68,1362.68 768.68,1362.71 768.69,1362.74 768.69,1362.76 768.7,1362.79 768.7,1362.82 768.7,1362.84 768.71,1362.87 768.71,1362.9 768.71,1362.93 768.71,1362.96 768.71,1362.98 768.71,1363.01 768.71,1363.04 768.71,1363.07 768.71,1363.1 768.7,1363.12 768.7,1363.15 768.7,1363.18 768.7,1363.21 768.69,1363.24 768.69,1363.26 768.68,1363.29 768.68,1363.32 768.67,1363.35 768.67,1363.38 768.66,1363.41 768.65,1363.43 768.64,1363.46 768.64,1363.49 768.63,1363.52 768.62,1363.55 768.61,1363.57 768.6,1363.6 768.59,1363.63 768.58,1363.66 768.56,1363.69 768.55,1363.71 768.54,1363.74 768.53,1363.77 768.51,1363.79 768.5,1363.82 768.49,1363.85 768.47,1363.88 768.46,1363.9 768.44,1363.93 768.42,1363.96 768.41,1363.98 768.39,1364.01 768.37,1364.03 768.35,1364.06 768.34,1364.08 768.32,1364.11 768.3,1364.14 768.28,1364.16 768.26,1364.19 768.23,1364.23 768.21,1364.27 768.19,1364.31 768.16,1364.34 768.13,1364.38 768.11,1364.42 768.08,1364.46 768.05,1364.5 768.02,1364.54 768,1364.58 767.97,1364.61 767.93,1364.65 767.9,1364.69 767.87,1364.72 767.84,1364.76 767.8,1364.79 767.77,1364.83 767.74,1364.86 767.7,1364.9 767.66,1364.93 767.63,1364.97 767.59,1365 767.55,1365.03 767.51,1365.06 767.47,1365.1 767.43,1365.13 767.39,1365.16 767.35,1365.19 767.31,1365.22 767.27,1365.25 767.23,1365.28 767.18,1365.3 767.14,1365.33 767.09,1365.36 767.05,1365.38 767,1365.41 766.96,1365.44 766.91,1365.46 766.86,1365.49 766.81,1365.51 766.77,1365.53 766.72,1365.56 766.67,1365.58 766.62,1365.6 766.57,1365.62 766.51,1365.64 766.46,1365.66 766.41,1365.68 766.36,1365.7 766.3,1365.71 766.25,1365.73 766.2,1365.75 766.14,1365.76 766.09,1365.78 766.03,1365.79 765.98,1365.8 765.92,1365.82 765.86,1365.83 765.81,1365.84 765.75,1365.85 765.69,1365.86 765.63,1365.87 765.57,1365.88 765.52,1365.89 765.46,1365.89 765.4,1365.9 765.34,1365.9 765.28,1365.91 765.22,1365.91 765.15,1365.92 765.08,1365.93 765,1365.95 764.92,1365.97 764.85,1365.98 764.77,1366 764.69,1366.01 764.61,1366.02 764.53,1366.04 764.45,1366.05 764.37,1366.05 764.28,1366.06 764.2,1366.07 764.12,1366.07 764.04,1366.08 763.95,1366.08 763.87,1366.08 763.79,1366.09 763.7,1366.09 763.62,1366.08 763.53,1366.08 763.45,1366.08 763.36,1366.07 763.27,1366.07 763.19,1366.06 763.1,1366.05 763.02,1366.04 762.93,1366.03 762.84,1366.02 762.75,1366 762.67,1365.99 762.58,1365.97 762.49,1365.96 762.4,1365.94 762.31,1365.92 762.23,1365.9 762.14,1365.87 762.05,1365.85 761.96,1365.83 761.87,1365.8 761.78,1365.77 761.69,1365.74 761.6,1365.71 761.52,1365.68 761.43,1365.65 761.34,1365.62 761.25,1365.58 761.15,1365.55 761.05,1365.52 760.94,1365.49 760.84,1365.45 760.74,1365.41 760.64,1365.38 760.54,1365.34 760.43,1365.3 760.33,1365.25 760.23,1365.21 760.13,1365.16 760.03,1365.12 759.93,1365.07 759.83,1365.02 759.73,1364.97 759.63,1364.91 759.53,1364.86 759.43,1364.8 759.33,1364.74 759.23,1364.68 759.13,1364.62 759.03,1364.56 758.93,1364.5 758.83,1364.43 758.74,1364.36 758.64,1364.3 758.54,1364.23 758.45,1364.15 758.35,1364.08 758.26,1364.01 758.16,1363.93 758.07,1363.85 757.98,1363.77 757.88,1363.69 757.79,1363.61 757.7,1363.53 757.61,1363.44 757.52,1363.35 757.43,1363.27 757.34,1363.18 757.25,1363.09 757.17,1362.99 757.08,1362.9 757,1362.8 756.91,1362.71 756.83,1362.61 756.74,1362.51 756.66,1362.41 756.58,1362.3 756.5,1362.2 756.47,1362.09 756.44,1361.99 756.4,1361.88 756.37,1361.78 756.34,1361.67 756.32,1361.56 756.29,1361.45 756.26,1361.34 756.24,1361.23 756.21,1361.13 756.19,1361.01 756.17,1360.9 756.15,1360.79 756.13,1360.68 756.11,1360.57 756.09,1360.46 756.07,1360.34 756.06,1360.23 756.04,1360.11 756.03,1360 756.01,1359.89 756,1359.77 755.99,1359.65 755.98,1359.54 755.97,1359.42 755.96,1359.31 755.96,1359.19 755.95,1359.07 755.95,1358.95 755.94,1358.84 755.94,1358.72 755.94,1358.6 755.94,1358.48 755.94,1358.36 755.94,1358.24 755.95,1358.12 755.95,1358 755.96,1357.88 755.96,1357.76 755.97,1357.64 755.98,1357.52 755.99,1357.4 756,1357.28 756.01,1357.16 756.03,1357.03 756.04,1356.91 756.06,1356.79 756.08,1356.67 756.09,1356.55 756.11,1356.42 756.13,1356.3 756.16,1356.18 756.18,1356.06 756.2,1355.93 756.23,1355.81 756.26,1355.69 756.28,1355.57 756.31,1355.44 756.34,1355.32 756.38,1355.2 756.38,1355.06 756.39,1354.92 756.39,1354.78 756.4,1354.64 756.41,1354.5 756.42,1354.36 756.44,1354.22 756.45,1354.07 756.47,1353.93 756.49,1353.79 756.51,1353.64 756.53,1353.5 756.55,1353.36 756.57,1353.21 756.6,1353.07 756.63,1352.92 756.66,1352.78 756.69,1352.63 756.72,1352.49 756.75,1352.34 756.79,1352.2 756.83,1352.05 756.87,1351.91 756.91,1351.76 756.95,1351.62 756.99,1351.47 757.04,1351.32 757.09,1351.18 757.14,1351.03 757.19,1350.89 757.24,1350.74 757.29,1350.59 757.35,1350.45 757.41,1350.3 757.47,1350.16 757.53,1350.01 757.59,1349.87 757.65,1349.72 757.72,1349.58 757.79,1349.43 757.86,1349.29 757.93,1349.14 758,1349 758.07,1348.86 758.15,1348.71 758.23,1348.57 758.31,1348.43 758.39,1348.28 758.47,1348.14 758.56,1348 758.64,1347.86 758.73,1347.72 758.82,1347.58 758.91,1347.44 759.01,1347.3 759.1,1347.16 759.2,1347.02 759.3,1346.89 759.4,1346.75 759.5,1346.61 759.52,1346.33 759.55,1346.05 759.58,1345.77 759.61,1345.48 759.65,1345.2 759.69,1344.91 759.74,1344.63 759.79,1344.34 759.85,1344.06 759.91,1343.77 759.97,1343.49 760.04,1343.2 760.11,1342.91 760.19,1342.62 760.27,1342.34 760.36,1342.05 760.45,1341.76 760.54,1341.47 760.64,1341.19 760.75,1340.9 760.86,1340.61 760.97,1340.33 761.09,1340.04 761.21,1339.76 761.33,1339.47 761.46,1339.18 761.6,1338.9 761.74,1338.62 761.88,1338.33 762.03,1338.05 762.08,1337.37 762.14,1336.7 762.21,1336.02 762.3,1335.34 762.39,1334.65 762.5,1333.97 762.62,1333.29 762.75,1332.61 762.89,1331.93 763.04,1331.25 763.21,1330.57 763.38,1329.89 763.57,1329.21 763.77,1328.53 763.84,1326.84 763.95,1325.14 764.09,1323.45 764.25,1321.76 764.44,1320.06 764.67,1318.37 764.92,1316.67 765.2,1314.98 764.78,1301.38 764.18,1279.81 763.96,1258.24 764.42,1245.23 765.43,1245.08 766.45,1244.95 767.48,1244.82 768.5,1244.7" fill="#000"/>
<text class="se" x="327.6" y="780.8" font-size="28.5" textLength="203.5" lengthAdjust="spacingAndGlyphs">TRAV8-3–TRAJ6</text>
<text class="se" x="333.2" y="801.5" font-size="23" textLength="83" lengthAdjust="spacingAndGlyphs">(13.18%)</text>
<text class="se" x="327.6" y="835.7" font-size="28.5" textLength="217.4" lengthAdjust="spacingAndGlyphs">TRAV8-2–TRAJ10</text>
<text class="se" x="333.2" y="855.9" font-size="23" textLength="72.2" lengthAdjust="spacingAndGlyphs">(9.03%)</text>
<text class="se" x="327.6" y="889.5" font-size="28.5" textLength="207.6" lengthAdjust="spacingAndGlyphs">TRAV26–TRAJ12</text>
<text class="se" x="333.2" y="909.8" font-size="23" textLength="72.2" lengthAdjust="spacingAndGlyphs">(4.43%)</text>
<text class="se" x="324.2" y="943" font-size="28.5" textLength="206.2" lengthAdjust="spacingAndGlyphs">TRAV21–TRAJ40</text>
<text class="se" x="329" y="963.1" font-size="23" textLength="72.2" lengthAdjust="spacingAndGlyphs">(4.39%)</text>
<text class="se" x="327.6" y="998" font-size="28.5" textLength="231" lengthAdjust="spacingAndGlyphs">TRAV26-1–TRAJ26</text>
<text class="se" x="333.2" y="1018.1" font-size="23" textLength="72.2" lengthAdjust="spacingAndGlyphs">(1.98%)</text>
<polyline points="320.5,771.4 300.8,771.4 202.3,788.8" fill="none" stroke="#000" stroke-width="1.25"/>
<polyline points="320.5,839.6 300.8,839.6 265.5,844.8" fill="none" stroke="#000" stroke-width="1.25"/>
<polyline points="320.5,891.1 277,891.1" fill="none" stroke="#000" stroke-width="1.25"/>
<polyline points="320.5,932.2 300.8,932.2 273.8,930.5" fill="none" stroke="#000" stroke-width="1.25"/>
<polyline points="320.5,990.1 300.8,990.1 266.2,952.3" fill="none" stroke="#000" stroke-width="1.25"/>
<text class="se" x="932.4" y="775.8" font-size="28.5" textLength="216.7" lengthAdjust="spacingAndGlyphs">TRAV8-4–TRAJ27</text>
<text class="se" x="937.7" y="796" font-size="23" textLength="83" lengthAdjust="spacingAndGlyphs">(25.43%)</text>
<text class="se" x="932.4" y="932.9" font-size="28.5" textLength="192.9" lengthAdjust="spacingAndGlyphs">TRAV3–TRAJ13</text>
<text class="se" x="937.7" y="952.6" font-size="23" textLength="72.2" lengthAdjust="spacingAndGlyphs">(19.5%)</text>
<text class="se" x="932.4" y="1009.6" font-size="28.5" textLength="207.4" lengthAdjust="spacingAndGlyphs">TRAV24–TRAJ52</text>
<text class="se" x="937.5" y="1029.5" font-size="23" textLength="72" lengthAdjust="spacingAndGlyphs">(7.24%)</text>
<text class="se" x="842.5" y="1073.5" font-size="28.5" textLength="229.6" lengthAdjust="spacingAndGlyphs">TRAV12-2–TRAJ43</text>
<text class="se" x="848.3" y="1092.8" font-size="23" textLength="71.8" lengthAdjust="spacingAndGlyphs">(4.41%)</text>
<text class="se" x="600.3" y="1054.8" font-size="28.5" textLength="216.7" lengthAdjust="spacingAndGlyphs">TRAV9-2–TRAJ52</text>
<text class="se" x="606.3" y="1074.5" font-size="23" textLength="60.3" lengthAdjust="spacingAndGlyphs">(3.9%)</text>
<polyline points="931.2,768.8 912.2,768.8 851.6,812.5" fill="none" stroke="#000" stroke-width="1.25"/>
<polyline points="931.2,935 912.2,935 872.5,958.5" fill="none" stroke="#000" stroke-width="1.25"/>
<polyline points="931.4,1020.2 909.8,1020.2 800.9,1015" fill="none" stroke="#000" stroke-width="1.25"/>
<polyline points="837.9,1065.2 739.7,1015" fill="none" stroke="#000" stroke-width="1.25"/>
<polyline points="690,1012.9 705.1,1000" fill="none" stroke="#000" stroke-width="1.25"/>
<text class="se" x="323.7" y="1251.6" font-size="28.5" textLength="331.7" lengthAdjust="spacingAndGlyphs">TRBV20-1–TRBD1–TRB2-7</text>
<text class="se" x="329.3" y="1272" font-size="23" textLength="82.8" lengthAdjust="spacingAndGlyphs">(11.84%)</text>
<text class="se" x="323.7" y="1305.7" font-size="28.5" textLength="308.5" lengthAdjust="spacingAndGlyphs">TRBV27–TRBD1–TRB2-5</text>
<text class="se" x="329.3" y="1325.8" font-size="23" textLength="72" lengthAdjust="spacingAndGlyphs">(7.78%)</text>
<text class="se" x="323.7" y="1360.2" font-size="28.5" textLength="308.5" lengthAdjust="spacingAndGlyphs">TRBV27–TRBD1–TRB2-5</text>
<text class="se" x="329.3" y="1380.1" font-size="23" textLength="72" lengthAdjust="spacingAndGlyphs">(3.23%)</text>
<text class="se" x="319.5" y="1414.4" font-size="28.5" textLength="315.2" lengthAdjust="spacingAndGlyphs">TRBV5-4–TRBD1–TRB2-1</text>
<text class="se" x="324.8" y="1434.7" font-size="23" textLength="44" lengthAdjust="spacingAndGlyphs">(3%)</text>
<text class="se" x="323.7" y="1468.3" font-size="28.5" textLength="316.8" lengthAdjust="spacingAndGlyphs">TRBV5-1–TRBD1–TRB2-3</text>
<text class="se" x="329.3" y="1488.6" font-size="23" textLength="72" lengthAdjust="spacingAndGlyphs">(2.88%)</text>
<polyline points="316.8,1241.9 297.7,1241.9 205.4,1258.4" fill="none" stroke="#000" stroke-width="1.25"/>
<polyline points="316.8,1310.5 297.7,1310.5 263.7,1315.4" fill="none" stroke="#000" stroke-width="1.25"/>
<polyline points="316.8,1362.3 274.9,1362.3" fill="none" stroke="#000" stroke-width="1.25"/>
<polyline points="316.8,1403 297.7,1403 270.7,1401.1" fill="none" stroke="#000" stroke-width="1.25"/>
<polyline points="316.8,1460.6 297.7,1460.6 261.8,1422.9" fill="none" stroke="#000" stroke-width="1.25"/>
<text class="se" x="930.5" y="1246.1" font-size="28.5" textLength="305.8" lengthAdjust="spacingAndGlyphs">TRBV9–TRBD2–TRBJ1-4</text>
<text class="se" x="930.6" y="1266.4" font-size="23" textLength="71.8" lengthAdjust="spacingAndGlyphs">(13.8%)</text>
<text class="se" x="932.5" y="1320.3" font-size="28.5" textLength="328.2" lengthAdjust="spacingAndGlyphs">TRBV5-1–TRBD2–TRBJ2-5</text>
<text class="se" x="937.6" y="1340.7" font-size="23" textLength="71.3" lengthAdjust="spacingAndGlyphs">(11.9%)</text>
<text class="se" x="930.5" y="1394.6" font-size="28.5" textLength="326.8" lengthAdjust="spacingAndGlyphs">TRBV7-2–TRBD1–TRBJ2-1</text>
<text class="se" x="936.2" y="1414.7" font-size="23" textLength="71.8" lengthAdjust="spacingAndGlyphs">(10.6%)</text>
<text class="se" x="932.9" y="1484.4" font-size="28.5" textLength="317.5" lengthAdjust="spacingAndGlyphs">TRBV30–TRBD2–TRBJ2-1</text>
<text class="se" x="937.5" y="1503.7" font-size="23" textLength="72.3" lengthAdjust="spacingAndGlyphs">(5.93%)</text>
<text class="se" x="757.6" y="1549.8" font-size="28.5" textLength="297" lengthAdjust="spacingAndGlyphs">TRB19–TRBD1–TRBJ2-1</text>
<text class="se" x="762.8" y="1568" font-size="23" textLength="72.2" lengthAdjust="spacingAndGlyphs">(5.19%)</text>
<polyline points="929.6,1239.8 910.5,1239.8 855.6,1279.9" fill="none" stroke="#000" stroke-width="1.25"/>
<polyline points="929.6,1308.3 910.5,1308.3 881.5,1326.1" fill="none" stroke="#000" stroke-width="1.25"/>
<polyline points="929.6,1391.3 884.6,1389.4" fill="none" stroke="#000" stroke-width="1.25"/>
<polyline points="848.6,1450.8 901.5,1476.8" fill="none" stroke="#000" stroke-width="1.25"/>
<line x1="901.5" y1="1476.8" x2="920.2" y2="1476.8" stroke="#777" stroke-width="1.25"/>
<polyline points="823.7,1474.7 860.7,1509.5" fill="none" stroke="#000" stroke-width="1.25"/>
</g>
<g id="panel-c">
<text class="sb" x="1350.5" y="27.6" font-size="45.5">c</text>
<text class="se" x="1605.5" y="32.4" font-size="47.3" textLength="312.5" lengthAdjust="spacingAndGlyphs">Colorectal tumor</text>
<text class="se" x="1672.5" y="820.9" font-size="47.3" textLength="219" lengthAdjust="spacingAndGlyphs">Lung tumor</text>
<g fill="#d0301f">
<circle cx="1448.7" cy="303.6" r="2.85"/><circle cx="1449.4" cy="322.7" r="2.85"/>
</g>
<g fill="#000">
<circle cx="1445.3" cy="229.1" r="2.85"/><circle cx="1445.3" cy="239.5" r="2.85"/><circle cx="1445.3" cy="268" r="2.85"/><circle cx="1445.3" cy="297.8" r="2.85"/><circle cx="1445.3" cy="299.42" r="2.85"/><circle cx="1445.3" cy="301.03" r="2.85"/><circle cx="1445.3" cy="302.65" r="2.85"/><circle cx="1445.3" cy="304.26" r="2.85"/><circle cx="1445.3" cy="305.88" r="2.85"/><circle cx="1445.3" cy="307.49" r="2.85"/><circle cx="1445.3" cy="309.11" r="2.85"/><circle cx="1445.3" cy="310.72" r="2.85"/><circle cx="1445.3" cy="312.34" r="2.85"/><circle cx="1445.3" cy="313.95" r="2.85"/><circle cx="1445.3" cy="315.56" r="2.85"/><circle cx="1445.3" cy="317.18" r="2.85"/><circle cx="1445.3" cy="318.8" r="2.85"/><circle cx="1445.3" cy="320.41" r="2.85"/><circle cx="1445.3" cy="322.03" r="2.85"/><circle cx="1445.3" cy="323.64" r="2.85"/><circle cx="1445.3" cy="325.25" r="2.85"/><circle cx="1445.3" cy="326.87" r="2.85"/><circle cx="1445.3" cy="328.49" r="2.85"/><circle cx="1445.3" cy="330.1" r="2.85"/><circle cx="1445.3" cy="330.1" r="2.85"/><circle cx="1446.94" cy="330.1" r="2.85"/><circle cx="1448.59" cy="330.1" r="2.85"/><circle cx="1450.23" cy="330.1" r="2.85"/><circle cx="1451.87" cy="330.1" r="2.85"/><circle cx="1453.51" cy="330.1" r="2.85"/><circle cx="1455.16" cy="330.1" r="2.85"/><circle cx="1456.8" cy="330.1" r="2.85"/><circle cx="1458.44" cy="330.1" r="2.85"/><circle cx="1460.09" cy="330.1" r="2.85"/><circle cx="1461.73" cy="330.1" r="2.85"/><circle cx="1463.37" cy="330.1" r="2.85"/><circle cx="1465.01" cy="330.1" r="2.85"/><circle cx="1466.66" cy="330.1" r="2.85"/><circle cx="1468.3" cy="330.1" r="2.85"/><circle cx="1473.6" cy="330.1" r="2.85"/><circle cx="1479.1" cy="330.1" r="2.85"/><circle cx="1484.4" cy="330.1" r="2.85"/><circle cx="1493.5" cy="330.1" r="2.85"/><circle cx="1502.7" cy="330.1" r="2.85"/><circle cx="1523" cy="330.1" r="2.85"/><circle cx="1574.2" cy="330.1" r="2.85"/><circle cx="1580.7" cy="330.1" r="2.85"/><circle cx="1594.6" cy="330.1" r="2.85"/><circle cx="1608.6" cy="330.1" r="2.85"/>
</g>
<g fill="#d0301f">
<circle cx="1504.9" cy="330.1" r="2.85"/><circle cx="1548.5" cy="330.1" r="2.85"/><circle cx="1609.8" cy="330.1" r="2.85"/><circle cx="1626.7" cy="330.1" r="2.85"/><circle cx="1718" cy="330.1" r="2.85"/>
</g>
<g stroke="#000" stroke-width="1.3" fill="none">
<path d="M1434.5 91V339.1H1729.5"/>
<path d="M1445.3 339.1v8.6M1487.85 339.1v8.6M1530.4 339.1v8.6M1572.95 339.1v8.6M1615.5 339.1v8.6M1658.05 339.1v8.6M1700.6 339.1v8.6M1434.5 330.1h-8.6M1434.5 294.23h-8.6M1434.5 258.36h-8.6M1434.5 222.49h-8.6M1434.5 186.62h-8.6M1434.5 150.75h-8.6M1434.5 114.88h-8.6"/>
</g>
<text class="sa" x="1433.5" y="366.7" font-size="12.3" textLength="23.6" lengthAdjust="spacingAndGlyphs">0.00</text>
<text class="sa" x="1476.05" y="366.7" font-size="12.3" textLength="23.6" lengthAdjust="spacingAndGlyphs">0.02</text>
<text class="sa" x="1518.6" y="366.7" font-size="12.3" textLength="23.6" lengthAdjust="spacingAndGlyphs">0.04</text>
<text class="sa" x="1561.15" y="366.7" font-size="12.3" textLength="23.6" lengthAdjust="spacingAndGlyphs">0.06</text>
<text class="sa" x="1603.7" y="366.7" font-size="12.3" textLength="23.6" lengthAdjust="spacingAndGlyphs">0.08</text>
<text class="sa" x="1646.25" y="366.7" font-size="12.3" textLength="23.6" lengthAdjust="spacingAndGlyphs">0.10</text>
<text class="sa" x="1688.8" y="366.7" font-size="12.3" textLength="23.6" lengthAdjust="spacingAndGlyphs">0.12</text>
<text class="sa" x="1416.2" y="341.9" font-size="12.3" transform="rotate(-90 1416.2 341.9)" textLength="23.6" lengthAdjust="spacingAndGlyphs">0.00</text>
<text class="sa" x="1416.2" y="306.03" font-size="12.3" transform="rotate(-90 1416.2 306.03)" textLength="23.6" lengthAdjust="spacingAndGlyphs">0.02</text>
<text class="sa" x="1416.2" y="270.16" font-size="12.3" transform="rotate(-90 1416.2 270.16)" textLength="23.6" lengthAdjust="spacingAndGlyphs">0.04</text>
<text class="sa" x="1416.2" y="234.29" font-size="12.3" transform="rotate(-90 1416.2 234.29)" textLength="23.6" lengthAdjust="spacingAndGlyphs">0.06</text>
<text class="sa" x="1416.2" y="198.42" font-size="12.3" transform="rotate(-90 1416.2 198.42)" textLength="23.6" lengthAdjust="spacingAndGlyphs">0.08</text>
<text class="sa" x="1416.2" y="162.55" font-size="12.3" transform="rotate(-90 1416.2 162.55)" textLength="23.6" lengthAdjust="spacingAndGlyphs">0.10</text>
<text class="sa" x="1416.2" y="126.68" font-size="12.3" transform="rotate(-90 1416.2 126.68)" textLength="23.6" lengthAdjust="spacingAndGlyphs">0.12</text>
<text class="sa" x="1562.2" y="397.6" font-size="12.5" textLength="39.4" lengthAdjust="spacingAndGlyphs">CD39+</text>
<text class="sa" x="1384.3" y="232.4" font-size="12.5" transform="rotate(-90 1384.3 232.4)" textLength="35.2" lengthAdjust="spacingAndGlyphs">CD39-</text>
<text class="sab" x="1581.8" y="65.4" font-size="15.35" text-anchor="middle">Patient #1867</text>
<text class="sa" x="1683.8" y="111.6" font-size="12.7" textLength="39" lengthAdjust="spacingAndGlyphs">r=-0.11</text>
<rect x="1434.5" y="91.5" width="70.2" height="46" fill="#fff" stroke="#000" stroke-width="1.3"/>
<circle cx="1446" cy="106.7" r="2.85" fill="#000"/>
<circle cx="1446" cy="122.3" r="2.85" fill="#d0301f"/>
<text class="sa" x="1458" y="111.6" font-size="13" textLength="39.6" lengthAdjust="spacingAndGlyphs">Unique</text>
<text class="sa" x="1458" y="127.2" font-size="13" textLength="40.6" lengthAdjust="spacingAndGlyphs">Shared</text>
<g fill="#d0301f">
<circle cx="1839.3" cy="113.3" r="2.85"/><circle cx="1882.8" cy="178.4" r="2.85"/><circle cx="1851.7" cy="204.6" r="2.85"/><circle cx="1852.8" cy="208.7" r="2.85"/><circle cx="1953.8" cy="201.5" r="2.85"/><circle cx="1838" cy="233.9" r="2.85"/><circle cx="1859.8" cy="242" r="2.85"/><circle cx="1998.9" cy="242" r="2.85"/><circle cx="1846.3" cy="256" r="2.85"/><circle cx="1846" cy="259.6" r="2.85"/><circle cx="1843.5" cy="264.1" r="2.85"/><circle cx="1840.2" cy="270.5" r="2.85"/><circle cx="1854.6" cy="276.9" r="2.85"/><circle cx="1959.9" cy="278" r="2.85"/><circle cx="1968.9" cy="287.3" r="2.85"/><circle cx="1841.4" cy="291.6" r="2.85"/><circle cx="1844" cy="294.6" r="2.85"/><circle cx="1841.7" cy="298.1" r="2.85"/><circle cx="1840.5" cy="301.1" r="2.85"/><circle cx="1850.8" cy="302.6" r="2.85"/><circle cx="1852.6" cy="303.7" r="2.85"/><circle cx="1844.8" cy="305.6" r="2.85"/><circle cx="1841" cy="307.4" r="2.85"/><circle cx="1861.4" cy="307.1" r="2.85"/><circle cx="1858.6" cy="310.4" r="2.85"/><circle cx="1846.3" cy="310.9" r="2.85"/><circle cx="1840.5" cy="310.9" r="2.85"/><circle cx="1838.7" cy="316.5" r="2.85"/><circle cx="1873.7" cy="325.5" r="2.85"/><circle cx="1891.1" cy="327.5" r="2.85"/><circle cx="1903.6" cy="328.5" r="2.85"/><circle cx="1908.4" cy="328.5" r="2.85"/><circle cx="1953.1" cy="328.5" r="2.85"/><circle cx="1976" cy="328.5" r="2.85"/><circle cx="1841.7" cy="328.2" r="2.85"/>
</g>
<g fill="#000">
<circle cx="1835.9" cy="100.4" r="2.85"/><circle cx="1835.9" cy="150.5" r="2.85"/><circle cx="1835.9" cy="187.6" r="2.85"/><circle cx="1835.9" cy="195.7" r="2.85"/><circle cx="1835.9" cy="206.1" r="2.85"/><circle cx="1835.9" cy="229.6" r="2.85"/><circle cx="1835.9" cy="231.22" r="2.85"/><circle cx="1835.9" cy="232.84" r="2.85"/><circle cx="1835.9" cy="234.46" r="2.85"/><circle cx="1835.9" cy="236.08" r="2.85"/><circle cx="1835.9" cy="237.7" r="2.85"/><circle cx="1835.9" cy="245.3" r="2.85"/><circle cx="1835.9" cy="248.3" r="2.85"/><circle cx="1835.9" cy="256.6" r="2.85"/><circle cx="1835.9" cy="259.9" r="2.85"/><circle cx="1835.9" cy="265.6" r="2.85"/><circle cx="1835.9" cy="267.21" r="2.85"/><circle cx="1835.9" cy="268.83" r="2.85"/><circle cx="1835.9" cy="270.44" r="2.85"/><circle cx="1835.9" cy="272.05" r="2.85"/><circle cx="1835.9" cy="273.66" r="2.85"/><circle cx="1835.9" cy="275.28" r="2.85"/><circle cx="1835.9" cy="276.89" r="2.85"/><circle cx="1835.9" cy="278.5" r="2.85"/><circle cx="1835.9" cy="280.11" r="2.85"/><circle cx="1835.9" cy="281.73" r="2.85"/><circle cx="1835.9" cy="283.34" r="2.85"/><circle cx="1835.9" cy="284.95" r="2.85"/><circle cx="1835.9" cy="286.56" r="2.85"/><circle cx="1835.9" cy="288.18" r="2.85"/><circle cx="1835.9" cy="289.79" r="2.85"/><circle cx="1835.9" cy="291.4" r="2.85"/><circle cx="1835.9" cy="293.01" r="2.85"/><circle cx="1835.9" cy="294.62" r="2.85"/><circle cx="1835.9" cy="296.24" r="2.85"/><circle cx="1835.9" cy="297.85" r="2.85"/><circle cx="1835.9" cy="299.46" r="2.85"/><circle cx="1835.9" cy="301.08" r="2.85"/><circle cx="1835.9" cy="302.69" r="2.85"/><circle cx="1835.9" cy="304.3" r="2.85"/><circle cx="1835.9" cy="305.91" r="2.85"/><circle cx="1835.9" cy="307.53" r="2.85"/><circle cx="1835.9" cy="309.14" r="2.85"/><circle cx="1835.9" cy="310.75" r="2.85"/><circle cx="1835.9" cy="312.36" r="2.85"/><circle cx="1835.9" cy="313.98" r="2.85"/><circle cx="1835.9" cy="315.59" r="2.85"/><circle cx="1835.9" cy="317.2" r="2.85"/><circle cx="1835.9" cy="318.81" r="2.85"/><circle cx="1835.9" cy="320.43" r="2.85"/><circle cx="1835.9" cy="322.04" r="2.85"/><circle cx="1835.9" cy="323.65" r="2.85"/><circle cx="1835.9" cy="325.26" r="2.85"/><circle cx="1835.9" cy="326.88" r="2.85"/><circle cx="1835.9" cy="328.49" r="2.85"/><circle cx="1835.9" cy="330.1" r="2.85"/><circle cx="1835.9" cy="330.1" r="2.85"/><circle cx="1837.7" cy="330.1" r="2.85"/><circle cx="1839.5" cy="330.1" r="2.85"/><circle cx="1841.3" cy="330.1" r="2.85"/><circle cx="1843.1" cy="330.1" r="2.85"/><circle cx="1844.91" cy="330.1" r="2.85"/><circle cx="1846.71" cy="330.1" r="2.85"/><circle cx="1848.51" cy="330.1" r="2.85"/><circle cx="1850.31" cy="330.1" r="2.85"/><circle cx="1852.11" cy="330.1" r="2.85"/><circle cx="1853.91" cy="330.1" r="2.85"/><circle cx="1855.71" cy="330.1" r="2.85"/><circle cx="1857.51" cy="330.1" r="2.85"/><circle cx="1859.31" cy="330.1" r="2.85"/><circle cx="1861.12" cy="330.1" r="2.85"/><circle cx="1862.92" cy="330.1" r="2.85"/><circle cx="1864.72" cy="330.1" r="2.85"/><circle cx="1866.52" cy="330.1" r="2.85"/><circle cx="1868.32" cy="330.1" r="2.85"/><circle cx="1870.12" cy="330.1" r="2.85"/><circle cx="1871.92" cy="330.1" r="2.85"/><circle cx="1873.72" cy="330.1" r="2.85"/><circle cx="1875.53" cy="330.1" r="2.85"/><circle cx="1877.33" cy="330.1" r="2.85"/><circle cx="1879.13" cy="330.1" r="2.85"/><circle cx="1880.93" cy="330.1" r="2.85"/><circle cx="1882.73" cy="330.1" r="2.85"/><circle cx="1884.53" cy="330.1" r="2.85"/><circle cx="1886.33" cy="330.1" r="2.85"/><circle cx="1888.13" cy="330.1" r="2.85"/><circle cx="1889.93" cy="330.1" r="2.85"/><circle cx="1891.74" cy="330.1" r="2.85"/><circle cx="1893.54" cy="330.1" r="2.85"/><circle cx="1895.34" cy="330.1" r="2.85"/><circle cx="1897.14" cy="330.1" r="2.85"/><circle cx="1898.94" cy="330.1" r="2.85"/><circle cx="1900.74" cy="330.1" r="2.85"/><circle cx="1902.54" cy="330.1" r="2.85"/><circle cx="1904.34" cy="330.1" r="2.85"/><circle cx="1906.14" cy="330.1" r="2.85"/><circle cx="1907.95" cy="330.1" r="2.85"/><circle cx="1909.75" cy="330.1" r="2.85"/><circle cx="1911.55" cy="330.1" r="2.85"/><circle cx="1913.35" cy="330.1" r="2.85"/><circle cx="1915.15" cy="330.1" r="2.85"/><circle cx="1916.95" cy="330.1" r="2.85"/><circle cx="1918.75" cy="330.1" r="2.85"/><circle cx="1920.55" cy="330.1" r="2.85"/><circle cx="1922.36" cy="330.1" r="2.85"/><circle cx="1924.16" cy="330.1" r="2.85"/><circle cx="1925.96" cy="330.1" r="2.85"/><circle cx="1927.76" cy="330.1" r="2.85"/><circle cx="1929.56" cy="330.1" r="2.85"/><circle cx="1931.36" cy="330.1" r="2.85"/><circle cx="1933.16" cy="330.1" r="2.85"/><circle cx="1934.96" cy="330.1" r="2.85"/><circle cx="1936.76" cy="330.1" r="2.85"/><circle cx="1938.57" cy="330.1" r="2.85"/><circle cx="1940.37" cy="330.1" r="2.85"/><circle cx="1942.17" cy="330.1" r="2.85"/><circle cx="1943.97" cy="330.1" r="2.85"/><circle cx="1945.77" cy="330.1" r="2.85"/><circle cx="1947.57" cy="330.1" r="2.85"/><circle cx="1949.37" cy="330.1" r="2.85"/><circle cx="1951.17" cy="330.1" r="2.85"/><circle cx="1952.97" cy="330.1" r="2.85"/><circle cx="1954.78" cy="330.1" r="2.85"/><circle cx="1956.58" cy="330.1" r="2.85"/><circle cx="1958.38" cy="330.1" r="2.85"/><circle cx="1960.18" cy="330.1" r="2.85"/><circle cx="1961.98" cy="330.1" r="2.85"/><circle cx="1963.78" cy="330.1" r="2.85"/><circle cx="1965.58" cy="330.1" r="2.85"/><circle cx="1967.38" cy="330.1" r="2.85"/><circle cx="1969.19" cy="330.1" r="2.85"/><circle cx="1970.99" cy="330.1" r="2.85"/><circle cx="1972.79" cy="330.1" r="2.85"/><circle cx="1974.59" cy="330.1" r="2.85"/><circle cx="1976.39" cy="330.1" r="2.85"/><circle cx="1978.19" cy="330.1" r="2.85"/><circle cx="1979.99" cy="330.1" r="2.85"/><circle cx="1981.79" cy="330.1" r="2.85"/><circle cx="1983.59" cy="330.1" r="2.85"/><circle cx="1985.4" cy="330.1" r="2.85"/><circle cx="1987.2" cy="330.1" r="2.85"/><circle cx="1989" cy="330.1" r="2.85"/><circle cx="1990.8" cy="330.1" r="2.85"/><circle cx="1992.6" cy="330.1" r="2.85"/><circle cx="2001.7" cy="330.1" r="2.85"/><circle cx="2005" cy="330.1" r="2.85"/><circle cx="2015.2" cy="330.1" r="2.85"/><circle cx="2020.5" cy="330.1" r="2.85"/><circle cx="2026.1" cy="330.1" r="2.85"/><circle cx="2074.1" cy="330.1" r="2.85"/>
</g>
<g stroke="#000" stroke-width="1.3" fill="none">
<path d="M1825 91V339.1H2120"/>
<path d="M1835.9 339.1v8.6M1911.03 339.1v8.6M1986.16 339.1v8.6M2061.29 339.1v8.6M1825 330.1h-8.6M1825 266.9h-8.6M1825 203.7h-8.6M1825 140.5h-8.6"/>
</g>
<text class="sa" x="1820.6" y="366.7" font-size="12.3" textLength="30.6" lengthAdjust="spacingAndGlyphs">0.000</text>
<text class="sa" x="1895.73" y="366.7" font-size="12.3" textLength="30.6" lengthAdjust="spacingAndGlyphs">0.005</text>
<text class="sa" x="1970.86" y="366.7" font-size="12.3" textLength="30.6" lengthAdjust="spacingAndGlyphs">0.010</text>
<text class="sa" x="2045.99" y="366.7" font-size="12.3" textLength="30.6" lengthAdjust="spacingAndGlyphs">0.015</text>
<text class="sa" x="1806.7" y="345.4" font-size="12.3" transform="rotate(-90 1806.7 345.4)" textLength="30.6" lengthAdjust="spacingAndGlyphs">0.000</text>
<text class="sa" x="1806.7" y="282.2" font-size="12.3" transform="rotate(-90 1806.7 282.2)" textLength="30.6" lengthAdjust="spacingAndGlyphs">0.005</text>
<text class="sa" x="1806.7" y="219" font-size="12.3" transform="rotate(-90 1806.7 219)" textLength="30.6" lengthAdjust="spacingAndGlyphs">0.010</text>
<text class="sa" x="1806.7" y="155.8" font-size="12.3" transform="rotate(-90 1806.7 155.8)" textLength="30.6" lengthAdjust="spacingAndGlyphs">0.015</text>
<text class="sa" x="1952.7" y="397.6" font-size="12.5" textLength="39.4" lengthAdjust="spacingAndGlyphs">CD39+</text>
<text class="sa" x="1774.8" y="232.4" font-size="12.5" transform="rotate(-90 1774.8 232.4)" textLength="35.2" lengthAdjust="spacingAndGlyphs">CD39-</text>
<text class="sab" x="1972.3" y="65.4" font-size="15.35" text-anchor="middle">Patient #1899</text>
<text class="sa" x="2073.5" y="111.6" font-size="12.7" textLength="39.8" lengthAdjust="spacingAndGlyphs">r=-0.16</text>
<g fill="#d0301f">
<circle cx="1464.3" cy="490.9" r="2.85"/><circle cx="1452.6" cy="604.7" r="2.85"/><circle cx="1445.4" cy="629.7" r="2.85"/><circle cx="1447.1" cy="648.6" r="2.85"/><circle cx="1445.4" cy="684.1" r="2.85"/><circle cx="1466.7" cy="706.1" r="2.85"/><circle cx="1458.8" cy="711.1" r="2.85"/><circle cx="1451.4" cy="715.7" r="2.85"/><circle cx="1456.5" cy="718.3" r="2.85"/><circle cx="1465" cy="720.5" r="2.85"/><circle cx="1498.1" cy="718.3" r="2.85"/><circle cx="1512.8" cy="713.6" r="2.85"/><circle cx="1565" cy="713.5" r="2.85"/><circle cx="1601" cy="712.4" r="2.85"/><circle cx="1701.9" cy="711.8" r="2.85"/>
</g>
<g fill="#000">
<circle cx="1445.4" cy="699.1" r="2.85"/><circle cx="1445.4" cy="700.75" r="2.85"/><circle cx="1445.4" cy="702.39" r="2.85"/><circle cx="1445.4" cy="704.04" r="2.85"/><circle cx="1445.4" cy="705.68" r="2.85"/><circle cx="1445.4" cy="707.33" r="2.85"/><circle cx="1445.4" cy="708.98" r="2.85"/><circle cx="1445.4" cy="710.62" r="2.85"/><circle cx="1445.4" cy="712.27" r="2.85"/><circle cx="1445.4" cy="713.92" r="2.85"/><circle cx="1445.4" cy="715.56" r="2.85"/><circle cx="1445.4" cy="717.21" r="2.85"/><circle cx="1445.4" cy="718.85" r="2.85"/><circle cx="1445.4" cy="720.5" r="2.85"/><circle cx="1445.4" cy="720.5" r="2.85"/><circle cx="1446.99" cy="720.5" r="2.85"/><circle cx="1448.58" cy="720.5" r="2.85"/><circle cx="1450.17" cy="720.5" r="2.85"/><circle cx="1451.76" cy="720.5" r="2.85"/><circle cx="1453.35" cy="720.5" r="2.85"/><circle cx="1454.95" cy="720.5" r="2.85"/><circle cx="1456.54" cy="720.5" r="2.85"/><circle cx="1458.13" cy="720.5" r="2.85"/><circle cx="1459.72" cy="720.5" r="2.85"/><circle cx="1461.31" cy="720.5" r="2.85"/><circle cx="1462.9" cy="720.5" r="2.85"/><circle cx="1468.6" cy="720.5" r="2.85"/><circle cx="1491.9" cy="720.7" r="2.85"/>
</g>
<g stroke="#000" stroke-width="1.3" fill="none">
<path d="M1434.5 481.4V729.5H1729.5"/>
<path d="M1445.4 729.5v8.6M1532.2 729.5v8.6M1619 729.5v8.6M1705.8 729.5v8.6M1434.5 720.5h-8.6M1434.5 647.4h-8.6M1434.5 574.3h-8.6M1434.5 501.2h-8.6"/>
</g>
<text class="sa" x="1433.6" y="757.1" font-size="12.3" textLength="23.6" lengthAdjust="spacingAndGlyphs">0.00</text>
<text class="sa" x="1520.4" y="757.1" font-size="12.3" textLength="23.6" lengthAdjust="spacingAndGlyphs">0.05</text>
<text class="sa" x="1607.2" y="757.1" font-size="12.3" textLength="23.6" lengthAdjust="spacingAndGlyphs">0.10</text>
<text class="sa" x="1694" y="757.1" font-size="12.3" textLength="23.6" lengthAdjust="spacingAndGlyphs">0.15</text>
<text class="sa" x="1416.2" y="732.3" font-size="12.3" transform="rotate(-90 1416.2 732.3)" textLength="23.6" lengthAdjust="spacingAndGlyphs">0.00</text>
<text class="sa" x="1416.2" y="659.2" font-size="12.3" transform="rotate(-90 1416.2 659.2)" textLength="23.6" lengthAdjust="spacingAndGlyphs">0.05</text>
<text class="sa" x="1416.2" y="586.1" font-size="12.3" transform="rotate(-90 1416.2 586.1)" textLength="23.6" lengthAdjust="spacingAndGlyphs">0.10</text>
<text class="sa" x="1416.2" y="513" font-size="12.3" transform="rotate(-90 1416.2 513)" textLength="23.6" lengthAdjust="spacingAndGlyphs">0.15</text>
<text class="sa" x="1562.2" y="788" font-size="12.5" textLength="39.4" lengthAdjust="spacingAndGlyphs">CD39+</text>
<text class="sa" x="1384.3" y="622.8" font-size="12.5" transform="rotate(-90 1384.3 622.8)" textLength="35.2" lengthAdjust="spacingAndGlyphs">CD39-</text>
<text class="sab" x="1581.8" y="455.8" font-size="15.35" text-anchor="middle">Patient #1922</text>
<text class="sa" x="1680.3" y="502" font-size="12.7" textLength="42.5" lengthAdjust="spacingAndGlyphs">r=0.063</text>
<g fill="#d0301f">
<circle cx="1838.4" cy="627.5" r="2.85"/><circle cx="1837.5" cy="662.9" r="2.85"/><circle cx="1835.8" cy="687.9" r="2.85"/>
</g>
<g fill="#000">
<circle cx="1835.8" cy="490.9" r="2.85"/><circle cx="1835.8" cy="530.9" r="2.85"/><circle cx="1835.8" cy="651.5" r="2.85"/><circle cx="1835.8" cy="698.4" r="2.85"/><circle cx="1835.8" cy="703.4" r="2.85"/><circle cx="1835.8" cy="704.95" r="2.85"/><circle cx="1835.8" cy="706.51" r="2.85"/><circle cx="1835.8" cy="708.06" r="2.85"/><circle cx="1835.8" cy="709.62" r="2.85"/><circle cx="1835.8" cy="711.17" r="2.85"/><circle cx="1835.8" cy="712.73" r="2.85"/><circle cx="1835.8" cy="714.28" r="2.85"/><circle cx="1835.8" cy="715.84" r="2.85"/><circle cx="1835.8" cy="717.39" r="2.85"/><circle cx="1835.8" cy="718.95" r="2.85"/><circle cx="1835.8" cy="720.5" r="2.85"/><circle cx="1835.8" cy="720.5" r="2.85"/><circle cx="1837.4" cy="720.5" r="2.85"/><circle cx="1839.01" cy="720.5" r="2.85"/><circle cx="1840.62" cy="720.5" r="2.85"/><circle cx="1842.22" cy="720.5" r="2.85"/><circle cx="1843.83" cy="720.5" r="2.85"/><circle cx="1845.43" cy="720.5" r="2.85"/><circle cx="1847.04" cy="720.5" r="2.85"/><circle cx="1848.64" cy="720.5" r="2.85"/><circle cx="1850.25" cy="720.5" r="2.85"/><circle cx="1851.85" cy="720.5" r="2.85"/><circle cx="1853.45" cy="720.5" r="2.85"/><circle cx="1855.06" cy="720.5" r="2.85"/><circle cx="1856.66" cy="720.5" r="2.85"/><circle cx="1858.27" cy="720.5" r="2.85"/><circle cx="1859.88" cy="720.5" r="2.85"/><circle cx="1861.48" cy="720.5" r="2.85"/><circle cx="1863.09" cy="720.5" r="2.85"/><circle cx="1864.69" cy="720.5" r="2.85"/><circle cx="1866.3" cy="720.5" r="2.85"/><circle cx="1867.9" cy="720.5" r="2.85"/><circle cx="1871.4" cy="720.5" r="2.85"/><circle cx="1873.1" cy="720.5" r="2.85"/><circle cx="1874.8" cy="720.5" r="2.85"/><circle cx="1876.5" cy="720.5" r="2.85"/><circle cx="1878.2" cy="720.5" r="2.85"/><circle cx="1879.9" cy="720.5" r="2.85"/><circle cx="1886.8" cy="720.5" r="2.85"/><circle cx="1909.1" cy="720.5" r="2.85"/><circle cx="1923.3" cy="720.5" r="2.85"/><circle cx="1949.6" cy="720.5" r="2.85"/>
</g>
<g fill="#d0301f">
<circle cx="1840.1" cy="714.2" r="2.85"/><circle cx="1883.7" cy="720.5" r="2.85"/>
</g>
<g stroke="#000" stroke-width="1.3" fill="none">
<path d="M1825 481.4V729.5H2120"/>
<path d="M1835.8 729.5v8.6M1911 729.5v8.6M1986.2 729.5v8.6M2061.4 729.5v8.6M1825 720.5h-8.6M1825 657.15h-8.6M1825 593.8h-8.6M1825 530.45h-8.6"/>
</g>
<text class="sa" x="1824" y="757.1" font-size="12.3" textLength="23.6" lengthAdjust="spacingAndGlyphs">0.00</text>
<text class="sa" x="1899.2" y="757.1" font-size="12.3" textLength="23.6" lengthAdjust="spacingAndGlyphs">0.05</text>
<text class="sa" x="1974.4" y="757.1" font-size="12.3" textLength="23.6" lengthAdjust="spacingAndGlyphs">0.10</text>
<text class="sa" x="2049.6" y="757.1" font-size="12.3" textLength="23.6" lengthAdjust="spacingAndGlyphs">0.15</text>
<text class="sa" x="1806.7" y="732.3" font-size="12.3" transform="rotate(-90 1806.7 732.3)" textLength="23.6" lengthAdjust="spacingAndGlyphs">0.00</text>
<text class="sa" x="1806.7" y="668.95" font-size="12.3" transform="rotate(-90 1806.7 668.95)" textLength="23.6" lengthAdjust="spacingAndGlyphs">0.05</text>
<text class="sa" x="1806.7" y="605.6" font-size="12.3" transform="rotate(-90 1806.7 605.6)" textLength="23.6" lengthAdjust="spacingAndGlyphs">0.10</text>
<text class="sa" x="1806.7" y="542.25" font-size="12.3" transform="rotate(-90 1806.7 542.25)" textLength="23.6" lengthAdjust="spacingAndGlyphs">0.15</text>
<text class="sa" x="1952.7" y="788" font-size="12.5" textLength="39.4" lengthAdjust="spacingAndGlyphs">CD39+</text>
<text class="sa" x="1774.8" y="622.8" font-size="12.5" transform="rotate(-90 1774.8 622.8)" textLength="35.2" lengthAdjust="spacingAndGlyphs">CD39-</text>
<text class="sab" x="1972.3" y="455.8" font-size="15.35" text-anchor="middle">Patient #1951</text>
<text class="sa" x="2066.1" y="502" font-size="12.7" textLength="47.2" lengthAdjust="spacingAndGlyphs">r=-0.062</text>
<g fill="#000">
<circle cx="1444.6" cy="1097.7" r="2.85"/><circle cx="1444.6" cy="1099.35" r="2.85"/><circle cx="1444.6" cy="1101" r="2.85"/><circle cx="1444.6" cy="1102.65" r="2.85"/><circle cx="1444.6" cy="1104.3" r="2.85"/><circle cx="1444.6" cy="1105.95" r="2.85"/><circle cx="1444.6" cy="1107.6" r="2.85"/><circle cx="1444.6" cy="1109.25" r="2.85"/><circle cx="1444.6" cy="1110.9" r="2.85"/><circle cx="1445.4" cy="1110.9" r="2.85"/><circle cx="1447.22" cy="1110.9" r="2.85"/><circle cx="1449.04" cy="1110.9" r="2.85"/><circle cx="1450.86" cy="1110.9" r="2.85"/><circle cx="1452.68" cy="1110.9" r="2.85"/><circle cx="1454.51" cy="1110.9" r="2.85"/><circle cx="1456.33" cy="1110.9" r="2.85"/><circle cx="1458.15" cy="1110.9" r="2.85"/><circle cx="1459.97" cy="1110.9" r="2.85"/><circle cx="1461.79" cy="1110.9" r="2.85"/><circle cx="1463.61" cy="1110.9" r="2.85"/><circle cx="1465.43" cy="1110.9" r="2.85"/><circle cx="1467.25" cy="1110.9" r="2.85"/><circle cx="1469.07" cy="1110.9" r="2.85"/><circle cx="1470.89" cy="1110.9" r="2.85"/><circle cx="1472.72" cy="1110.9" r="2.85"/><circle cx="1474.54" cy="1110.9" r="2.85"/><circle cx="1476.36" cy="1110.9" r="2.85"/><circle cx="1478.18" cy="1110.9" r="2.85"/><circle cx="1480" cy="1110.9" r="2.85"/><circle cx="1486" cy="1110.9" r="2.85"/><circle cx="1490.4" cy="1110.9" r="2.85"/><circle cx="1502.4" cy="1110.9" r="2.85"/>
</g>
<g fill="#d0301f">
<circle cx="1486.7" cy="881.3" r="2.85"/><circle cx="1472.3" cy="1073.3" r="2.85"/><circle cx="1448.5" cy="1076.5" r="2.85"/><circle cx="1452.9" cy="1084.8" r="2.85"/><circle cx="1460.2" cy="1086.5" r="2.85"/><circle cx="1447.5" cy="1088.7" r="2.85"/><circle cx="1450.9" cy="1089.9" r="2.85"/><circle cx="1450" cy="1095" r="2.85"/><circle cx="1452.6" cy="1096.8" r="2.85"/><circle cx="1447.5" cy="1098.5" r="2.85"/><circle cx="1459.5" cy="1098.8" r="2.85"/><circle cx="1445.8" cy="1100.2" r="2.85"/><circle cx="1449.2" cy="1101.9" r="2.85"/><circle cx="1453.5" cy="1103.3" r="2.85"/><circle cx="1446.6" cy="1104.5" r="2.85"/><circle cx="1450.9" cy="1105.4" r="2.85"/><circle cx="1448.3" cy="1107.1" r="2.85"/><circle cx="1461.2" cy="1107.6" r="2.85"/><circle cx="1445.8" cy="1108.8" r="2.85"/><circle cx="1451.8" cy="1109.1" r="2.85"/><circle cx="1447.5" cy="1110.5" r="2.85"/><circle cx="1454.5" cy="1100" r="2.85"/><circle cx="1456" cy="1093.5" r="2.85"/><circle cx="1455.5" cy="1106.5" r="2.85"/><circle cx="1495" cy="1110.5" r="2.85"/>
</g>
<g stroke="#000" stroke-width="1.3" fill="none">
<path d="M1434.5 871.7V1119.8H1729.5"/>
<path d="M1445.4 1119.8v8.6M1518.33 1119.8v8.6M1591.26 1119.8v8.6M1664.19 1119.8v8.6M1434.5 1110.9h-8.6M1434.5 1049.4h-8.6M1434.5 987.9h-8.6M1434.5 926.4h-8.6"/>
</g>
<text class="sa" x="1433.6" y="1147.4" font-size="12.3" textLength="23.6" lengthAdjust="spacingAndGlyphs">0.00</text>
<text class="sa" x="1506.53" y="1147.4" font-size="12.3" textLength="23.6" lengthAdjust="spacingAndGlyphs">0.05</text>
<text class="sa" x="1579.46" y="1147.4" font-size="12.3" textLength="23.6" lengthAdjust="spacingAndGlyphs">0.10</text>
<text class="sa" x="1652.39" y="1147.4" font-size="12.3" textLength="23.6" lengthAdjust="spacingAndGlyphs">0.15</text>
<text class="sa" x="1416.2" y="1122.7" font-size="12.3" transform="rotate(-90 1416.2 1122.7)" textLength="23.6" lengthAdjust="spacingAndGlyphs">0.00</text>
<text class="sa" x="1416.2" y="1061.2" font-size="12.3" transform="rotate(-90 1416.2 1061.2)" textLength="23.6" lengthAdjust="spacingAndGlyphs">0.05</text>
<text class="sa" x="1416.2" y="999.7" font-size="12.3" transform="rotate(-90 1416.2 999.7)" textLength="23.6" lengthAdjust="spacingAndGlyphs">0.10</text>
<text class="sa" x="1416.2" y="938.2" font-size="12.3" transform="rotate(-90 1416.2 938.2)" textLength="23.6" lengthAdjust="spacingAndGlyphs">0.15</text>
<text class="sa" x="1562.2" y="1178.3" font-size="12.5" textLength="39.4" lengthAdjust="spacingAndGlyphs">CD39+</text>
<text class="sa" x="1384.3" y="1013.1" font-size="12.5" transform="rotate(-90 1384.3 1013.1)" textLength="35.2" lengthAdjust="spacingAndGlyphs">CD39-</text>
<text class="sab" x="1581.8" y="846.1" font-size="15.35" text-anchor="middle">Patient #RHP4327</text>
<text class="sa" x="1687.6" y="892.3" font-size="12.7" textLength="35.2" lengthAdjust="spacingAndGlyphs">r=0.33</text>
<g fill="#d0301f">
<circle cx="1843.4" cy="1032.4" r="2.85"/>
</g>
<g fill="#000">
<circle cx="1835.8" cy="1069.3" r="2.85"/><circle cx="1835.8" cy="1092.5" r="2.85"/><circle cx="1835.8" cy="1094.03" r="2.85"/><circle cx="1835.8" cy="1095.57" r="2.85"/><circle cx="1835.8" cy="1097.1" r="2.85"/><circle cx="1835.8" cy="1098.63" r="2.85"/><circle cx="1835.8" cy="1100.17" r="2.85"/><circle cx="1835.8" cy="1101.7" r="2.85"/><circle cx="1835.8" cy="1103.23" r="2.85"/><circle cx="1835.8" cy="1104.77" r="2.85"/><circle cx="1835.8" cy="1106.3" r="2.85"/><circle cx="1835.8" cy="1107.83" r="2.85"/><circle cx="1835.8" cy="1109.37" r="2.85"/><circle cx="1835.8" cy="1110.9" r="2.85"/><circle cx="1835.8" cy="1110.9" r="2.85"/><circle cx="1837.37" cy="1110.9" r="2.85"/><circle cx="1838.93" cy="1110.9" r="2.85"/><circle cx="1840.5" cy="1110.9" r="2.85"/><circle cx="1842.07" cy="1110.9" r="2.85"/><circle cx="1843.63" cy="1110.9" r="2.85"/><circle cx="1845.2" cy="1110.9" r="2.85"/><circle cx="1846.77" cy="1110.9" r="2.85"/><circle cx="1848.33" cy="1110.9" r="2.85"/><circle cx="1849.9" cy="1110.9" r="2.85"/><circle cx="1934" cy="1110.9" r="2.85"/>
</g>
<g fill="#d0301f">
<circle cx="1841.3" cy="1086.5" r="2.85"/><circle cx="1848.2" cy="1085.8" r="2.85"/><circle cx="1843.4" cy="1090.3" r="2.85"/><circle cx="1861.6" cy="1092.5" r="2.85"/><circle cx="1878.6" cy="1094.4" r="2.85"/><circle cx="1885.6" cy="1096.8" r="2.85"/><circle cx="1867.4" cy="1103.5" r="2.85"/><circle cx="1889.4" cy="1105" r="2.85"/><circle cx="1859.9" cy="1108.3" r="2.85"/><circle cx="1862.3" cy="1107.9" r="2.85"/><circle cx="1929.2" cy="1103.8" r="2.85"/><circle cx="1985.3" cy="1082.5" r="2.85"/><circle cx="2007.4" cy="1070.2" r="2.85"/><circle cx="2108.7" cy="1093.5" r="2.85"/><circle cx="1840.1" cy="1097.6" r="2.85"/><circle cx="1842.2" cy="1101.9" r="2.85"/><circle cx="1844.8" cy="1102.8" r="2.85"/><circle cx="1841.3" cy="1105.4" r="2.85"/><circle cx="1845.3" cy="1104.5" r="2.85"/><circle cx="1839.5" cy="1094" r="2.85"/>
</g>
<g stroke="#000" stroke-width="1.3" fill="none">
<path d="M1825 871.7V1119.8H2120"/>
<path d="M1835.8 1119.8v8.6M1912.47 1119.8v8.6M1989.14 1119.8v8.6M2065.81 1119.8v8.6M1825 1110.9h-8.6M1825 1046.33h-8.6M1825 981.76h-8.6M1825 917.19h-8.6"/>
</g>
<text class="sa" x="1824" y="1147.4" font-size="12.3" textLength="23.6" lengthAdjust="spacingAndGlyphs">0.00</text>
<text class="sa" x="1900.67" y="1147.4" font-size="12.3" textLength="23.6" lengthAdjust="spacingAndGlyphs">0.05</text>
<text class="sa" x="1977.34" y="1147.4" font-size="12.3" textLength="23.6" lengthAdjust="spacingAndGlyphs">0.10</text>
<text class="sa" x="2054.01" y="1147.4" font-size="12.3" textLength="23.6" lengthAdjust="spacingAndGlyphs">0.15</text>
<text class="sa" x="1806.7" y="1122.7" font-size="12.3" transform="rotate(-90 1806.7 1122.7)" textLength="23.6" lengthAdjust="spacingAndGlyphs">0.00</text>
<text class="sa" x="1806.7" y="1058.13" font-size="12.3" transform="rotate(-90 1806.7 1058.13)" textLength="23.6" lengthAdjust="spacingAndGlyphs">0.05</text>
<text class="sa" x="1806.7" y="993.56" font-size="12.3" transform="rotate(-90 1806.7 993.56)" textLength="23.6" lengthAdjust="spacingAndGlyphs">0.10</text>
<text class="sa" x="1806.7" y="928.99" font-size="12.3" transform="rotate(-90 1806.7 928.99)" textLength="23.6" lengthAdjust="spacingAndGlyphs">0.15</text>
<text class="sa" x="1952.7" y="1178.3" font-size="12.5" textLength="39.4" lengthAdjust="spacingAndGlyphs">CD39+</text>
<text class="sa" x="1774.8" y="1013.1" font-size="12.5" transform="rotate(-90 1774.8 1013.1)" textLength="35.2" lengthAdjust="spacingAndGlyphs">CD39-</text>
<text class="sab" x="1972.3" y="846.1" font-size="15.35" text-anchor="middle">Patient #RHP4329</text>
<text class="sa" x="2078.1" y="892.3" font-size="12.7" textLength="35.2" lengthAdjust="spacingAndGlyphs">r=0.34</text>
<g fill="#d0301f">
<circle cx="1445.9" cy="1271.4" r="2.85"/><circle cx="1445.4" cy="1307.1" r="2.85"/><circle cx="1445.4" cy="1328.6" r="2.85"/><circle cx="1445.8" cy="1337.9" r="2.85"/><circle cx="1445.4" cy="1355" r="2.85"/><circle cx="1445.4" cy="1367.7" r="2.85"/><circle cx="1454.3" cy="1381.4" r="2.85"/><circle cx="1451.2" cy="1387.8" r="2.85"/><circle cx="1446.1" cy="1441.7" r="2.85"/><circle cx="1445.8" cy="1453.3" r="2.85"/><circle cx="1445.4" cy="1461.4" r="2.85"/><circle cx="1474.9" cy="1486.1" r="2.85"/><circle cx="1449.2" cy="1496.7" r="2.85"/><circle cx="1452.6" cy="1496.7" r="2.85"/><circle cx="1459.1" cy="1497.1" r="2.85"/><circle cx="1479.7" cy="1498.8" r="2.85"/><circle cx="1471.5" cy="1499.2" r="2.85"/>
</g>
<g fill="#000">
<circle cx="1445.4" cy="1291.5" r="2.85"/><circle cx="1445.4" cy="1333.4" r="2.85"/><circle cx="1445.4" cy="1350.5" r="2.85"/><circle cx="1445.4" cy="1366.3" r="2.85"/><circle cx="1445.4" cy="1384.2" r="2.85"/><circle cx="1445.4" cy="1397" r="2.85"/><circle cx="1445.4" cy="1406.7" r="2.85"/><circle cx="1445.4" cy="1413.5" r="2.85"/><circle cx="1445.4" cy="1423.8" r="2.85"/><circle cx="1445.4" cy="1428.4" r="2.85"/><circle cx="1445.4" cy="1441.3" r="2.85"/><circle cx="1445.4" cy="1448.7" r="2.85"/><circle cx="1445.4" cy="1459.7" r="2.85"/><circle cx="1445.4" cy="1467.1" r="2.85"/><circle cx="1445.4" cy="1469.36" r="2.85"/><circle cx="1445.4" cy="1471.62" r="2.85"/><circle cx="1445.4" cy="1473.88" r="2.85"/><circle cx="1445.4" cy="1476.14" r="2.85"/><circle cx="1445.4" cy="1478.4" r="2.85"/><circle cx="1445.4" cy="1480.66" r="2.85"/><circle cx="1445.4" cy="1482.92" r="2.85"/><circle cx="1445.4" cy="1485.18" r="2.85"/><circle cx="1445.4" cy="1487.44" r="2.85"/><circle cx="1445.4" cy="1489.7" r="2.85"/><circle cx="1445.4" cy="1491.96" r="2.85"/><circle cx="1445.4" cy="1494.22" r="2.85"/><circle cx="1445.4" cy="1496.48" r="2.85"/><circle cx="1445.4" cy="1498.74" r="2.85"/><circle cx="1445.4" cy="1501" r="2.85"/><circle cx="1445.4" cy="1501" r="2.85"/><circle cx="1447.4" cy="1501" r="2.85"/><circle cx="1449.41" cy="1501" r="2.85"/><circle cx="1451.41" cy="1501" r="2.85"/><circle cx="1453.41" cy="1501" r="2.85"/><circle cx="1455.41" cy="1501" r="2.85"/><circle cx="1457.41" cy="1501" r="2.85"/><circle cx="1459.42" cy="1501" r="2.85"/><circle cx="1461.42" cy="1501" r="2.85"/><circle cx="1463.42" cy="1501" r="2.85"/><circle cx="1465.43" cy="1501" r="2.85"/><circle cx="1467.43" cy="1501" r="2.85"/><circle cx="1469.43" cy="1501" r="2.85"/><circle cx="1471.43" cy="1501" r="2.85"/><circle cx="1473.43" cy="1501" r="2.85"/><circle cx="1475.44" cy="1501" r="2.85"/><circle cx="1477.44" cy="1501" r="2.85"/><circle cx="1479.44" cy="1501" r="2.85"/><circle cx="1481.45" cy="1501" r="2.85"/><circle cx="1483.45" cy="1501" r="2.85"/><circle cx="1485.45" cy="1501" r="2.85"/><circle cx="1487.45" cy="1501" r="2.85"/><circle cx="1489.45" cy="1501" r="2.85"/><circle cx="1491.46" cy="1501" r="2.85"/><circle cx="1493.46" cy="1501" r="2.85"/><circle cx="1495.46" cy="1501" r="2.85"/><circle cx="1497.47" cy="1501" r="2.85"/><circle cx="1499.47" cy="1501" r="2.85"/><circle cx="1501.47" cy="1501" r="2.85"/><circle cx="1503.47" cy="1501" r="2.85"/><circle cx="1505.47" cy="1501" r="2.85"/><circle cx="1507.48" cy="1501" r="2.85"/><circle cx="1509.48" cy="1501" r="2.85"/><circle cx="1511.48" cy="1501" r="2.85"/><circle cx="1513.49" cy="1501" r="2.85"/><circle cx="1515.49" cy="1501" r="2.85"/><circle cx="1517.49" cy="1501" r="2.85"/><circle cx="1519.49" cy="1501" r="2.85"/><circle cx="1521.49" cy="1501" r="2.85"/><circle cx="1523.5" cy="1501" r="2.85"/><circle cx="1525.5" cy="1501" r="2.85"/><circle cx="1533.8" cy="1501" r="2.85"/><circle cx="1546.6" cy="1501" r="2.85"/><circle cx="1553.8" cy="1501" r="2.85"/><circle cx="1555.6" cy="1501" r="2.85"/>
</g>
<g fill="#d0301f">
<circle cx="1488.3" cy="1501" r="2.85"/><circle cx="1530.7" cy="1501" r="2.85"/><circle cx="1580.8" cy="1501" r="2.85"/><circle cx="1445.4" cy="1367.7" r="2.85"/><circle cx="1445.8" cy="1337.9" r="2.85"/><circle cx="1445.4" cy="1355" r="2.85"/><circle cx="1446.1" cy="1441.7" r="2.85"/><circle cx="1445.8" cy="1453.3" r="2.85"/><circle cx="1445.4" cy="1461.4" r="2.85"/>
</g>
<g stroke="#000" stroke-width="1.3" fill="none">
<path d="M1434.5 1262.1V1510.2H1729.5"/>
<path d="M1445.4 1510.2v8.6M1487.98 1510.2v8.6M1530.56 1510.2v8.6M1573.14 1510.2v8.6M1615.72 1510.2v8.6M1658.3 1510.2v8.6M1700.88 1510.2v8.6M1434.5 1501h-8.6M1434.5 1465.08h-8.6M1434.5 1429.16h-8.6M1434.5 1393.24h-8.6M1434.5 1357.32h-8.6M1434.5 1321.4h-8.6M1434.5 1285.48h-8.6"/>
</g>
<text class="sa" x="1433.6" y="1537.8" font-size="12.3" textLength="23.6" lengthAdjust="spacingAndGlyphs">0.00</text>
<text class="sa" x="1476.18" y="1537.8" font-size="12.3" textLength="23.6" lengthAdjust="spacingAndGlyphs">0.01</text>
<text class="sa" x="1518.76" y="1537.8" font-size="12.3" textLength="23.6" lengthAdjust="spacingAndGlyphs">0.02</text>
<text class="sa" x="1561.34" y="1537.8" font-size="12.3" textLength="23.6" lengthAdjust="spacingAndGlyphs">0.03</text>
<text class="sa" x="1603.92" y="1537.8" font-size="12.3" textLength="23.6" lengthAdjust="spacingAndGlyphs">0.04</text>
<text class="sa" x="1646.5" y="1537.8" font-size="12.3" textLength="23.6" lengthAdjust="spacingAndGlyphs">0.05</text>
<text class="sa" x="1689.08" y="1537.8" font-size="12.3" textLength="23.6" lengthAdjust="spacingAndGlyphs">0.06</text>
<text class="sa" x="1416.2" y="1512.8" font-size="12.3" transform="rotate(-90 1416.2 1512.8)" textLength="23.6" lengthAdjust="spacingAndGlyphs">0.00</text>
<text class="sa" x="1416.2" y="1476.88" font-size="12.3" transform="rotate(-90 1416.2 1476.88)" textLength="23.6" lengthAdjust="spacingAndGlyphs">0.01</text>
<text class="sa" x="1416.2" y="1440.96" font-size="12.3" transform="rotate(-90 1416.2 1440.96)" textLength="23.6" lengthAdjust="spacingAndGlyphs">0.02</text>
<text class="sa" x="1416.2" y="1405.04" font-size="12.3" transform="rotate(-90 1416.2 1405.04)" textLength="23.6" lengthAdjust="spacingAndGlyphs">0.03</text>
<text class="sa" x="1416.2" y="1369.12" font-size="12.3" transform="rotate(-90 1416.2 1369.12)" textLength="23.6" lengthAdjust="spacingAndGlyphs">0.04</text>
<text class="sa" x="1416.2" y="1333.2" font-size="12.3" transform="rotate(-90 1416.2 1333.2)" textLength="23.6" lengthAdjust="spacingAndGlyphs">0.05</text>
<text class="sa" x="1416.2" y="1297.28" font-size="12.3" transform="rotate(-90 1416.2 1297.28)" textLength="23.6" lengthAdjust="spacingAndGlyphs">0.06</text>
<text class="sa" x="1562.2" y="1568.7" font-size="12.5" textLength="39.4" lengthAdjust="spacingAndGlyphs">CD39+</text>
<text class="sa" x="1384.3" y="1403.5" font-size="12.5" transform="rotate(-90 1384.3 1403.5)" textLength="35.2" lengthAdjust="spacingAndGlyphs">CD39-</text>
<text class="sab" x="1581.8" y="1236.5" font-size="15.35" text-anchor="middle">Patient #RHP4331</text>
<text class="sa" x="1675.6" y="1282.7" font-size="12.7" textLength="47.2" lengthAdjust="spacingAndGlyphs">r=-0.017</text>
<g fill="#d0301f">
<circle cx="1858" cy="1395.5" r="2.85"/><circle cx="1837.9" cy="1408.9" r="2.85"/><circle cx="1902.2" cy="1411.1" r="2.85"/><circle cx="1850.2" cy="1435.1" r="2.85"/><circle cx="1867.1" cy="1435.1" r="2.85"/><circle cx="1893.1" cy="1435.1" r="2.85"/><circle cx="1943.9" cy="1438.7" r="2.85"/><circle cx="1841" cy="1445.8" r="2.85"/><circle cx="1879.4" cy="1445.8" r="2.85"/><circle cx="1869.1" cy="1449.6" r="2.85"/><circle cx="1959.5" cy="1454.4" r="2.85"/><circle cx="1851.4" cy="1458.1" r="2.85"/><circle cx="1859.9" cy="1459.2" r="2.85"/><circle cx="1842.2" cy="1463.8" r="2.85"/><circle cx="1848.2" cy="1462.9" r="2.85"/><circle cx="1879.9" cy="1462.8" r="2.85"/><circle cx="1888.5" cy="1466.4" r="2.85"/><circle cx="1871.5" cy="1467.6" r="2.85"/><circle cx="1848.7" cy="1470.5" r="2.85"/><circle cx="1847.7" cy="1473.1" r="2.85"/><circle cx="1910.6" cy="1473.6" r="2.85"/><circle cx="1919.7" cy="1473.6" r="2.85"/><circle cx="1921.8" cy="1478.2" r="2.85"/><circle cx="1863.1" cy="1479.4" r="2.85"/><circle cx="1874.3" cy="1483.2" r="2.85"/><circle cx="1849.9" cy="1479" r="2.85"/><circle cx="1853.3" cy="1481.3" r="2.85"/><circle cx="1854.2" cy="1483.4" r="2.85"/><circle cx="1850.8" cy="1484.2" r="2.85"/><circle cx="1843" cy="1485.1" r="2.85"/><circle cx="1847.3" cy="1486.8" r="2.85"/><circle cx="1851.6" cy="1487.6" r="2.85"/><circle cx="1858" cy="1489" r="2.85"/><circle cx="1873.1" cy="1490.2" r="2.85"/><circle cx="1843.71" cy="1486.69" r="2.85"/><circle cx="1847.96" cy="1485.55" r="2.85"/><circle cx="1846.47" cy="1489.8" r="2.85"/><circle cx="1840.25" cy="1491.86" r="2.85"/><circle cx="1839.99" cy="1490.79" r="2.85"/><circle cx="1840.41" cy="1485.82" r="2.85"/><circle cx="1845.02" cy="1496.49" r="2.85"/><circle cx="1841.11" cy="1487.74" r="2.85"/><circle cx="1847.66" cy="1498.24" r="2.85"/><circle cx="1847" cy="1490.25" r="2.85"/><circle cx="1841.38" cy="1486.21" r="2.85"/><circle cx="1843.51" cy="1496.33" r="2.85"/><circle cx="1841.85" cy="1492.93" r="2.85"/><circle cx="1847.81" cy="1489.9" r="2.85"/><circle cx="1846.62" cy="1485.41" r="2.85"/><circle cx="1840.27" cy="1487.49" r="2.85"/><circle cx="1848.35" cy="1490.7" r="2.85"/><circle cx="1843.58" cy="1492.99" r="2.85"/><circle cx="1845.39" cy="1488.85" r="2.85"/><circle cx="1849.83" cy="1494.64" r="2.85"/><circle cx="1842.67" cy="1492.83" r="2.85"/><circle cx="1846.33" cy="1497.19" r="2.85"/><circle cx="1848.98" cy="1488.68" r="2.85"/><circle cx="1844.94" cy="1495.48" r="2.85"/><circle cx="1841.48" cy="1491.59" r="2.85"/><circle cx="1840.01" cy="1494.19" r="2.85"/><circle cx="1849.44" cy="1492.81" r="2.85"/><circle cx="1848.54" cy="1493.12" r="2.85"/><circle cx="1847.04" cy="1491.11" r="2.85"/><circle cx="1850.42" cy="1498.2" r="2.85"/><circle cx="1845.66" cy="1494.13" r="2.85"/><circle cx="1840.29" cy="1494.67" r="2.85"/><circle cx="1847.91" cy="1498.9" r="2.85"/><circle cx="1850.19" cy="1488.63" r="2.85"/><circle cx="1844.52" cy="1494.2" r="2.85"/><circle cx="1839.79" cy="1491.19" r="2.85"/><circle cx="1841.68" cy="1486.2" r="2.85"/><circle cx="1840.27" cy="1495.64" r="2.85"/><circle cx="1841.18" cy="1488.09" r="2.85"/><circle cx="1844.58" cy="1497.14" r="2.85"/><circle cx="1840.55" cy="1491.01" r="2.85"/><circle cx="1846.64" cy="1497.31" r="2.85"/><circle cx="1850.15" cy="1497.03" r="2.85"/><circle cx="1843.12" cy="1490.52" r="2.85"/><circle cx="1844.16" cy="1497.32" r="2.85"/><circle cx="1841.79" cy="1487.86" r="2.85"/><circle cx="1842.53" cy="1491.53" r="2.85"/><circle cx="1847.16" cy="1488.31" r="2.85"/><circle cx="1839.55" cy="1490.57" r="2.85"/><circle cx="1844.3" cy="1492.71" r="2.85"/><circle cx="1851.89" cy="1494.51" r="2.85"/><circle cx="1846.2" cy="1493.46" r="2.85"/><circle cx="1848.29" cy="1485.28" r="2.85"/><circle cx="1851.19" cy="1495.81" r="2.85"/><circle cx="1850.87" cy="1496.07" r="2.85"/>
</g>
<g fill="#000">
<circle cx="1835.8" cy="1454.2" r="2.85"/><circle cx="1835.8" cy="1458.1" r="2.85"/><circle cx="1835.8" cy="1465" r="2.85"/><circle cx="1835.8" cy="1467.9" r="2.85"/><circle cx="1835.8" cy="1469.5" r="2.85"/><circle cx="1835.8" cy="1471.09" r="2.85"/><circle cx="1835.8" cy="1472.69" r="2.85"/><circle cx="1835.8" cy="1474.28" r="2.85"/><circle cx="1835.8" cy="1475.88" r="2.85"/><circle cx="1835.8" cy="1477.47" r="2.85"/><circle cx="1835.8" cy="1479.07" r="2.85"/><circle cx="1835.8" cy="1480.66" r="2.85"/><circle cx="1835.8" cy="1482.26" r="2.85"/><circle cx="1835.8" cy="1483.85" r="2.85"/><circle cx="1835.8" cy="1485.45" r="2.85"/><circle cx="1835.8" cy="1487.04" r="2.85"/><circle cx="1835.8" cy="1488.64" r="2.85"/><circle cx="1835.8" cy="1490.23" r="2.85"/><circle cx="1835.8" cy="1491.83" r="2.85"/><circle cx="1835.8" cy="1493.42" r="2.85"/><circle cx="1835.8" cy="1495.02" r="2.85"/><circle cx="1835.8" cy="1496.61" r="2.85"/><circle cx="1835.8" cy="1498.21" r="2.85"/><circle cx="1835.8" cy="1499.8" r="2.85"/><circle cx="1835.8" cy="1501.4" r="2.85"/><circle cx="1835.8" cy="1501.4" r="2.85"/><circle cx="1837.39" cy="1501.4" r="2.85"/><circle cx="1838.98" cy="1501.4" r="2.85"/><circle cx="1840.58" cy="1501.4" r="2.85"/><circle cx="1842.17" cy="1501.4" r="2.85"/><circle cx="1843.76" cy="1501.4" r="2.85"/><circle cx="1845.35" cy="1501.4" r="2.85"/><circle cx="1846.94" cy="1501.4" r="2.85"/><circle cx="1848.54" cy="1501.4" r="2.85"/><circle cx="1850.13" cy="1501.4" r="2.85"/><circle cx="1851.72" cy="1501.4" r="2.85"/><circle cx="1853.31" cy="1501.4" r="2.85"/><circle cx="1854.9" cy="1501.4" r="2.85"/><circle cx="1856.5" cy="1501.4" r="2.85"/><circle cx="1858.09" cy="1501.4" r="2.85"/><circle cx="1859.68" cy="1501.4" r="2.85"/><circle cx="1861.27" cy="1501.4" r="2.85"/><circle cx="1862.86" cy="1501.4" r="2.85"/><circle cx="1864.46" cy="1501.4" r="2.85"/><circle cx="1866.05" cy="1501.4" r="2.85"/><circle cx="1867.64" cy="1501.4" r="2.85"/><circle cx="1869.23" cy="1501.4" r="2.85"/><circle cx="1870.82" cy="1501.4" r="2.85"/><circle cx="1872.42" cy="1501.4" r="2.85"/><circle cx="1874.01" cy="1501.4" r="2.85"/><circle cx="1875.6" cy="1501.4" r="2.85"/><circle cx="1901.7" cy="1501.4" r="2.85"/><circle cx="1910.3" cy="1501.4" r="2.85"/><circle cx="1924.5" cy="1501.4" r="2.85"/><circle cx="1928" cy="1501.4" r="2.85"/><circle cx="1959.5" cy="1501.4" r="2.85"/><circle cx="1976.4" cy="1501.4" r="2.85"/><circle cx="2108.7" cy="1501.4" r="2.85"/>
</g>
<g stroke="#000" stroke-width="1.3" fill="none">
<path d="M1825 1262.3V1510.4H2120"/>
<path d="M1835.8 1510.4v8.6M1878.07 1510.4v8.6M1920.34 1510.4v8.6M1962.61 1510.4v8.6M2004.88 1510.4v8.6M2047.15 1510.4v8.6M2089.42 1510.4v8.6M1825 1501.4h-8.6M1825 1465.73h-8.6M1825 1430.06h-8.6M1825 1394.39h-8.6M1825 1358.72h-8.6M1825 1323.05h-8.6M1825 1287.38h-8.6"/>
</g>
<text class="sa" x="1824" y="1538" font-size="12.3" textLength="23.6" lengthAdjust="spacingAndGlyphs">0.00</text>
<text class="sa" x="1866.27" y="1538" font-size="12.3" textLength="23.6" lengthAdjust="spacingAndGlyphs">0.01</text>
<text class="sa" x="1908.54" y="1538" font-size="12.3" textLength="23.6" lengthAdjust="spacingAndGlyphs">0.02</text>
<text class="sa" x="1950.81" y="1538" font-size="12.3" textLength="23.6" lengthAdjust="spacingAndGlyphs">0.03</text>
<text class="sa" x="1993.08" y="1538" font-size="12.3" textLength="23.6" lengthAdjust="spacingAndGlyphs">0.04</text>
<text class="sa" x="2035.35" y="1538" font-size="12.3" textLength="23.6" lengthAdjust="spacingAndGlyphs">0.05</text>
<text class="sa" x="2077.62" y="1538" font-size="12.3" textLength="23.6" lengthAdjust="spacingAndGlyphs">0.06</text>
<text class="sa" x="1806.7" y="1513.2" font-size="12.3" transform="rotate(-90 1806.7 1513.2)" textLength="23.6" lengthAdjust="spacingAndGlyphs">0.00</text>
<text class="sa" x="1806.7" y="1477.53" font-size="12.3" transform="rotate(-90 1806.7 1477.53)" textLength="23.6" lengthAdjust="spacingAndGlyphs">0.01</text>
<text class="sa" x="1806.7" y="1441.86" font-size="12.3" transform="rotate(-90 1806.7 1441.86)" textLength="23.6" lengthAdjust="spacingAndGlyphs">0.02</text>
<text class="sa" x="1806.7" y="1406.19" font-size="12.3" transform="rotate(-90 1806.7 1406.19)" textLength="23.6" lengthAdjust="spacingAndGlyphs">0.03</text>
<text class="sa" x="1806.7" y="1370.52" font-size="12.3" transform="rotate(-90 1806.7 1370.52)" textLength="23.6" lengthAdjust="spacingAndGlyphs">0.04</text>
<text class="sa" x="1806.7" y="1334.85" font-size="12.3" transform="rotate(-90 1806.7 1334.85)" textLength="23.6" lengthAdjust="spacingAndGlyphs">0.05</text>
<text class="sa" x="1806.7" y="1299.18" font-size="12.3" transform="rotate(-90 1806.7 1299.18)" textLength="23.6" lengthAdjust="spacingAndGlyphs">0.06</text>
<text class="sa" x="1952.7" y="1568.9" font-size="12.5" textLength="39.4" lengthAdjust="spacingAndGlyphs">CD39+</text>
<text class="sa" x="1774.8" y="1403.7" font-size="12.5" transform="rotate(-90 1774.8 1403.7)" textLength="35.2" lengthAdjust="spacingAndGlyphs">CD39-</text>
<text class="sab" x="1972.3" y="1236.7" font-size="15.35" text-anchor="middle">Patient #RHP4333</text>
<text class="sa" x="2078.1" y="1282.9" font-size="12.7" textLength="35.2" lengthAdjust="spacingAndGlyphs">r=0.18</text>
</g>
</svg>
</body>
</html>
